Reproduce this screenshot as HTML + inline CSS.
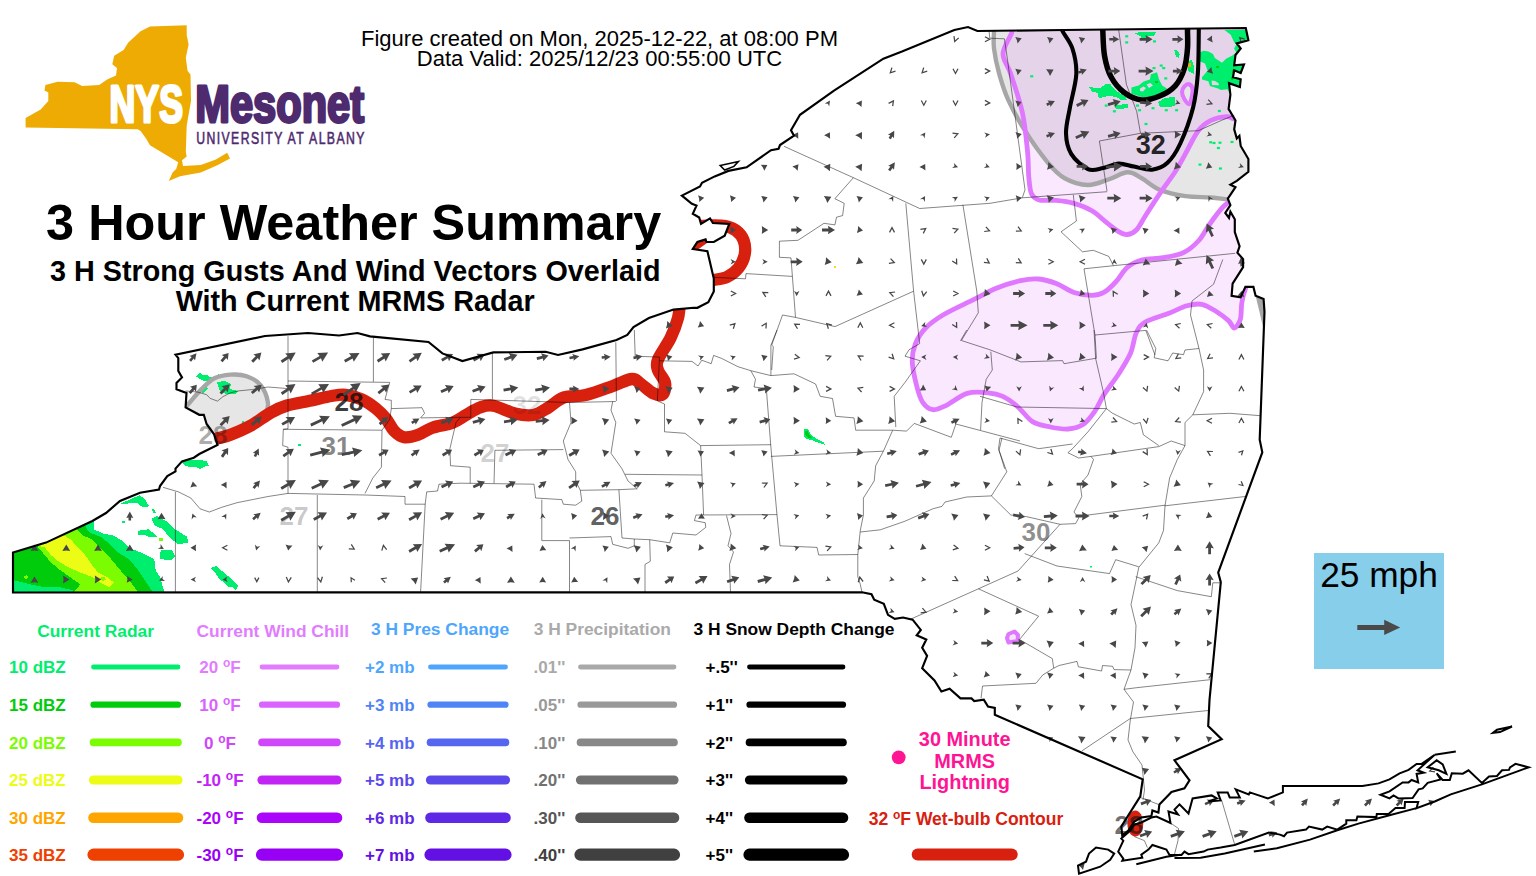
<!DOCTYPE html>
<html lang="en"><head><meta charset="utf-8"><title>NYS Mesonet - 3 Hour Weather Summary</title>
<style>html,body{margin:0;padding:0;background:#fff;}body{width:1536px;height:876px;overflow:hidden;position:relative;font-family:"Liberation Sans", sans-serif;}svg{position:absolute;left:0;top:0;display:block;}svg text{font-family:"Liberation Sans", sans-serif;}</style></head><body>
<svg width="1536" height="876" viewBox="0 0 1536 876">
<rect x="0" y="0" width="1536" height="876" fill="#ffffff"/>
<defs>
<clipPath id="st"><path d="M13.0 592.5 L13.0 552.5 L46.0 542.6 L92.4 521.0 L106.0 513.0 L120.0 501.0 L140.0 492.7 L159.0 489.6 L160.0 486.0 L167.3 476.0 L175.5 471.4 L175.5 468.6 L182.0 461.4 L193.8 457.7 L199.3 454.0 L217.5 444.9 L213.9 434.0 L206.6 424.0 L203.8 414.8 L199.3 414.8 L185.6 407.5 L186.5 392.9 L176.5 389.3 L176.5 382.9 L182.0 377.4 L178.3 371.0 L178.3 358.2 L175.5 354.6 L265.0 336.0 L308.0 333.0 L339.0 335.5 L357.5 333.0 L370.0 336.4 L428.5 342.0 L442.4 353.4 L462.4 361.0 L493.3 352.4 L545.7 351.8 L558.0 355.0 L582.6 349.4 L616.5 340.0 L627.3 334.9 L633.5 327.0 L648.9 318.0 L673.5 309.6 L693.6 307.8 L697.4 307.8 L708.3 302.3 L713.8 291.4 L713.8 278.6 L707.4 251.2 L692.8 249.0 L697.4 242.0 L705.6 239.4 L706.5 242.0 L713.8 242.0 L724.7 235.7 L729.3 223.9 L712.9 223.0 L710.0 218.4 L701.0 223.9 L699.2 217.5 L692.8 213.8 L696.5 205.6 L691.9 203.8 L681.9 195.6 L700.0 186.5 L702.0 182.8 L714.7 176.4 L728.4 170.9 L746.6 167.3 L771.0 150.2 L778.6 148.7 L780.0 145.0 L794.0 135.7 L791.0 130.2 L800.0 114.8 L834.0 90.7 L883.4 58.7 L902.0 51.6 L954.3 30.0 L968.0 27.0 L977.4 31.0 L1064.0 30.0 L1245.8 28.0 L1248.4 40.3 L1236.8 43.4 L1240.7 48.5 L1235.5 55.0 L1234.2 65.2 L1244.0 64.4 L1240.7 73.0 L1234.2 70.3 L1233.0 77.3 L1240.7 79.3 L1239.9 87.0 L1229.0 83.2 L1230.4 94.7 L1228.6 108.9 L1235.5 120.4 L1234.2 129.4 L1236.8 138.4 L1239.4 135.8 L1240.7 146.0 L1248.4 159.0 L1248.4 171.8 L1236.8 180.8 L1230.4 184.6 L1235.5 187.2 L1227.8 198.7 L1230.4 205.2 L1225.3 212.9 L1229.0 218.0 L1230.4 211.6 L1234.8 219.2 L1234.8 232.0 L1239.6 246.3 L1237.4 252.7 L1243.1 259.1 L1243.1 267.1 L1232.6 283.7 L1231.6 295.8 L1240.6 297.4 L1245.4 286.9 L1253.4 286.9 L1255.6 295.8 L1263.6 299.0 L1264.5 311.8 L1259.7 439.6 L1262.3 452.4 L1218.2 572.6 L1220.8 582.2 L1209.5 700.0 L1208.2 726.1 L1221.7 739.2 L1174.5 760.3 L1189.5 780.3 L1184.5 788.4 L1171.5 792.0 L1159.4 804.4 L1158.4 812.5 L1152.4 810.5 L1151.4 816.1 L1141.3 817.5 L1134.3 821.5 L1128.3 830.5 L1122.3 835.6 L1121.3 826.5 L1140.3 796.4 L1142.7 779.3 L994.8 714.8 L994.8 708.0 L988.0 706.6 L983.8 699.7 L974.2 701.0 L971.5 698.4 L960.5 698.4 L949.6 688.8 L941.4 691.5 L934.5 680.5 L922.2 668.2 L927.1 655.9 L922.2 647.7 L926.3 639.5 L916.7 635.3 L920.8 629.9 L912.6 619.7 L903.0 617.5 L894.8 618.9 L888.0 614.8 L883.8 603.8 L874.2 599.7 L871.5 594.2 L862.0 592.3 Z M1141.3 822.5 L1151.4 817.5 L1156.4 816.5 L1170.5 823.0 L1168.5 811.5 L1178.0 814.5 L1174.5 809.5 L1179.5 804.4 L1188.5 813.5 L1192.6 798.4 L1211.6 795.4 L1216.7 798.4 L1208.6 801.4 L1220.7 800.4 L1217.7 792.4 L1227.7 792.4 L1229.7 797.4 L1239.8 797.4 L1235.7 789.4 L1248.8 794.4 L1249.8 792.4 L1267.9 798.4 L1282.9 792.4 L1282.9 786.0 L1362.4 786.0 L1378.5 783.4 L1389.5 779.4 L1399.6 773.3 L1408.6 769.9 L1416.6 763.9 L1421.7 763.9 L1434.7 754.7 L1417.6 770.3 L1423.7 772.7 L1416.6 773.9 L1418.2 782.4 L1411.6 780.0 L1408.6 782.4 L1402.6 782.4 L1389.5 791.4 L1380.5 794.8 L1389.5 798.4 L1393.5 795.4 L1398.5 798.4 L1412.6 798.0 L1418.6 789.4 L1422.7 788.4 L1427.7 782.8 L1440.7 779.4 L1436.7 773.3 L1442.7 780.0 L1449.8 780.0 L1451.8 773.3 L1462.8 773.7 L1468.5 770.3 L1481.9 783.0 L1489.0 776.4 L1497.0 776.0 L1502.0 770.3 L1509.0 769.9 L1510.0 767.3 L1515.5 763.9 L1528.7 767.3 L1481.9 784.4 L1450.8 794.4 L1434.7 801.5 L1416.6 808.1 L1418.2 802.0 L1405.0 802.0 L1404.6 808.1 L1395.5 808.1 L1388.5 813.9 L1376.8 813.9 L1376.4 817.1 L1357.4 816.5 L1356.4 820.2 L1346.3 820.2 L1346.3 823.6 L1337.3 829.6 L1327.2 826.6 L1322.2 829.6 L1309.0 826.6 L1306.0 829.6 L1287.0 832.6 L1284.0 836.2 L1280.0 834.6 L1268.9 832.6 L1234.7 845.0 L1220.7 847.6 L1207.6 849.6 L1203.6 851.6 L1188.5 854.2 L1184.5 851.6 L1181.5 855.0 L1169.5 855.0 L1166.4 849.6 L1152.4 845.0 L1148.4 849.6 L1141.3 854.6 L1142.3 857.7 L1122.3 860.7 L1123.3 858.7 L1118.2 851.6 L1123.3 840.6 L1121.3 838.6 L1130.3 830.5 L1134.3 824.5 Z M1079.0 873.7 L1078.0 865.7 L1086.0 861.7 L1089.0 853.6 L1096.0 847.6 L1108.2 849.6 L1114.2 853.6 L1110.2 859.7 L1100.2 866.7 Z M1427.7 767.3 L1436.7 760.3 L1442.7 764.3 L1446.4 773.9 L1438.7 770.3 Z M1493.0 732.8 L1497.0 729.7 L1512.0 726.5 L1500.0 732.1 Z"/></clipPath>
</defs>
<g clip-path="url(#st)">
<path d="M994.0 20.0 C994.0 21.8 994.0 25.8 994.0 30.5 C994.0 35.2 993.1 41.2 994.0 48.5 C994.9 55.8 996.9 65.6 999.3 74.2 C1001.7 82.8 1003.9 90.5 1008.2 99.9 C1012.5 109.3 1018.4 120.2 1025.0 130.7 C1031.6 141.2 1041.4 154.9 1048.0 162.8 C1054.6 170.7 1058.0 174.5 1064.7 178.2 C1071.4 181.9 1080.6 184.8 1087.9 185.0 C1095.2 185.2 1101.8 181.6 1108.4 179.5 C1115.0 177.4 1122.1 172.5 1127.7 172.3 C1133.3 172.1 1136.5 175.3 1141.8 178.2 C1147.1 181.1 1152.5 186.8 1159.8 189.8 C1167.1 192.8 1176.9 194.9 1185.4 196.2 C1193.9 197.5 1203.9 196.9 1211.0 197.5 C1218.1 198.1 1222.1 198.9 1227.8 199.5 C1233.5 200.1 1242.1 200.8 1245.0 201.0 L1300 201 L1300 0 L994 0 Z" fill="#e6e6e6"/>
<path d="M180.0 410.0 C181.2 409.2 183.6 408.8 187.0 405.5 C190.4 402.2 195.7 394.9 200.3 390.4 C204.9 385.9 209.4 380.9 214.4 378.3 C219.4 375.7 225.1 375.0 230.5 374.6 C235.9 374.2 241.6 374.4 246.7 376.2 C251.8 378.0 257.3 380.9 260.8 385.3 C264.3 389.7 267.2 397.3 267.9 402.5 C268.6 407.7 266.5 413.3 264.9 416.6 C263.2 419.9 261.5 420.4 258.0 422.5 C254.5 424.6 249.0 427.3 244.0 429.5 C239.0 431.7 233.7 433.6 228.0 435.5 C222.3 437.4 213.0 440.1 210.0 441.0 L150 460 L150 410 Z" fill="#e6e6e6"/>
<path d="M1012.0 20.0 C1012.0 22.0 1013.5 26.2 1012.0 31.8 C1010.5 37.4 1003.2 46.6 1003.0 53.7 C1002.8 60.8 1007.6 64.4 1010.8 74.2 C1014.0 84.0 1019.6 99.9 1022.4 112.7 C1025.2 125.5 1026.4 140.5 1027.5 151.2 C1028.6 161.9 1028.1 169.9 1028.8 177.0 C1029.5 184.1 1029.7 189.8 1031.4 193.6 C1033.1 197.4 1034.8 198.9 1039.0 200.0 C1043.2 201.1 1050.5 199.8 1056.3 200.4 C1062.1 201.0 1068.1 201.7 1074.0 203.4 C1079.9 205.1 1086.5 207.6 1091.9 210.8 C1097.4 214.0 1102.2 219.2 1106.7 222.7 C1111.2 226.2 1115.1 229.6 1118.6 231.6 C1122.1 233.6 1124.5 234.8 1127.5 234.5 C1130.5 234.2 1133.4 233.1 1136.4 230.0 C1139.4 226.9 1141.4 222.1 1145.3 216.0 C1149.2 209.9 1154.8 201.0 1159.8 193.6 C1164.8 186.2 1170.9 178.4 1175.2 171.8 C1179.5 165.2 1181.6 160.7 1185.4 153.8 C1189.2 147.0 1194.0 136.3 1198.3 130.7 C1202.6 125.1 1206.3 122.8 1211.0 120.4 C1215.7 118.1 1222.6 116.8 1226.5 116.6 C1230.4 116.4 1230.3 117.9 1234.2 119.0 C1238.1 120.1 1247.4 122.3 1250.0 123.0 L1300 123 L1300 0 L1012 0 Z" fill="#e070ff" fill-opacity="0.16"/>
<path d="M1250.0 196.0 C1246.2 197.2 1233.5 199.0 1227.0 203.4 C1220.5 207.8 1215.4 216.5 1210.7 222.7 C1206.0 228.9 1203.2 235.6 1198.8 240.5 C1194.3 245.4 1189.9 249.5 1184.0 252.4 C1178.1 255.3 1170.1 256.5 1163.2 257.7 C1156.3 258.9 1148.4 258.2 1142.4 259.8 C1136.5 261.4 1132.0 263.5 1127.5 267.2 C1123.0 270.9 1119.7 277.8 1115.7 282.0 C1111.8 286.2 1107.8 290.2 1103.8 292.4 C1099.8 294.6 1096.9 295.4 1091.9 295.4 C1086.9 295.4 1079.9 294.4 1074.0 292.4 C1068.1 290.4 1062.2 285.7 1056.3 283.5 C1050.4 281.3 1044.5 279.5 1038.5 279.0 C1032.5 278.5 1027.5 279.1 1020.6 280.6 C1013.7 282.1 1004.8 284.8 996.9 288.0 C989.0 291.2 981.9 295.4 973.0 299.9 C964.1 304.3 951.3 310.0 943.4 314.7 C935.5 319.4 930.3 323.1 925.6 328.0 C920.9 332.9 917.4 338.7 915.2 344.4 C913.0 350.1 912.0 355.3 912.3 362.2 C912.5 369.1 915.0 379.3 916.7 386.0 C918.4 392.7 920.0 398.4 922.7 402.3 C925.4 406.2 929.0 409.2 933.0 409.7 C937.0 410.2 940.7 408.0 946.4 405.3 C952.1 402.6 960.3 395.5 967.2 393.4 C974.1 391.3 982.1 392.3 988.0 392.8 C993.9 393.3 997.8 394.1 1002.8 396.4 C1007.8 398.7 1012.8 402.5 1017.7 406.7 C1022.7 410.9 1027.1 418.2 1032.5 421.6 C1037.9 425.0 1044.4 425.8 1050.3 427.0 C1056.2 428.2 1062.6 429.4 1068.1 429.0 C1073.5 428.6 1078.5 427.6 1083.0 424.6 C1087.5 421.6 1091.4 416.1 1094.9 411.2 C1098.4 406.2 1099.8 401.1 1103.8 394.9 C1107.8 388.7 1114.1 380.9 1118.6 374.0 C1123.0 367.1 1127.5 360.2 1130.5 353.3 C1133.5 346.4 1133.9 337.7 1136.4 332.5 C1138.9 327.3 1139.9 325.2 1145.3 322.0 C1150.7 318.8 1162.1 315.9 1169.0 313.2 C1175.9 310.5 1181.4 307.3 1186.9 305.8 C1192.4 304.3 1196.8 303.3 1201.8 304.3 C1206.8 305.3 1212.1 309.0 1216.6 311.7 C1221.0 314.4 1225.5 317.9 1228.5 320.6 C1231.5 323.3 1232.4 328.2 1234.4 328.0 C1236.4 327.8 1239.2 323.4 1240.4 319.2 C1241.6 315.0 1240.9 308.0 1241.8 302.8 C1242.7 297.6 1244.0 292.6 1245.7 288.0 C1247.4 283.4 1251.0 277.2 1252.0 275.0 L1300 275 L1300 196 Z" fill="#e070ff" fill-opacity="0.16"/>
<path d="M0.0 600.0 L0.0 500.0 L93.5 519.7 L93.5 529.3 L103.9 533.8 L112.8 535.3 L123.0 541.2 L130.6 548.6 L142.4 553.0 L154.3 559.0 L155.8 570.9 L160.2 576.8 L163.2 588.7 L164.7 592.4 L165.0 600.0 Z" fill="#00ee6e" shape-rendering="crispEdges"/>
<path d="M0.0 600.0 L0.0 500.0 L84.6 524.2 L89.0 532.3 L100.9 536.8 L109.8 544.2 L118.7 553.0 L129.0 559.0 L136.5 567.9 L142.4 576.8 L148.4 585.7 L152.8 592.4 L153.0 600.0 Z" fill="#00cc0c" shape-rendering="crispEdges"/>
<path d="M30.0 548.0 L75.7 528.6 L83.0 535.3 L92.0 539.7 L100.9 548.6 L109.8 557.5 L117.2 566.4 L126.0 576.8 L133.5 585.7 L138.0 592.4 L138.0 600.0 L72.7 600.0 L72.7 592.4 L77.2 588.7 L80.0 584.2 L69.7 576.8 L59.3 569.4 L50.4 562.0 L43.0 553.0 L37.0 545.7 Z" fill="#7cfc00" shape-rendering="crispEdges"/>
<path d="M38.0 546.0 L63.8 535.3 L71.2 539.7 L77.2 547.1 L86.0 556.0 L92.0 565.0 L98.0 572.4 L106.8 576.8 L114.2 582.8 L109.8 587.2 L100.9 582.8 L92.0 576.8 L80.0 572.4 L69.7 567.9 L59.3 562.0 L50.4 554.6 L44.5 547.1 Z" fill="#ecfc14" shape-rendering="crispEdges"/>
<path d="M0.0 579.8 L12.6 579.8 L29.7 584.2 L44.5 587.2 L59.3 587.2 L72.7 590.2 L73.0 600.0 L0.0 600.0 Z" fill="#00ee6e" shape-rendering="crispEdges"/>
<path d="M23.7 576.0 L27.0 575.3 L28.2 578.0 L25.0 579.0 Z" fill="#7cfc00" shape-rendering="crispEdges"/>
<path d="M100.0 578.0 L104.0 576.5 L106.0 580.0 L102.0 581.0 Z" fill="#7cfc00" shape-rendering="crispEdges"/>
<path d="M120.0 504.0 L126.0 501.2 L139.5 495.2 L145.4 499.7 L149.0 506.4 L142.4 507.0 L136.5 502.6 L128.0 503.5 Z" fill="#00ee6e" shape-rendering="crispEdges"/>
<path d="M151.3 508.6 L154.0 508.6 L155.8 513.0 L153.0 512.5 Z" fill="#00ee6e" shape-rendering="crispEdges"/>
<path d="M151.3 519.0 L157.3 516.0 L167.7 522.0 L175.0 529.3 L187.0 536.8 L188.4 542.7 L178.0 544.2 L169.0 536.8 L163.2 529.3 L154.3 525.0 Z" fill="#00ee6e" shape-rendering="crispEdges"/>
<path d="M138.0 530.8 L148.4 529.3 L154.3 533.8 L157.3 536.8 L148.4 536.8 L146.0 535.3 L138.0 535.3 Z" fill="#00ee6e" shape-rendering="crispEdges"/>
<path d="M158.8 537.5 L163.2 537.5 L163.2 541.2 L158.8 541.2 Z" fill="#7cfc00" shape-rendering="crispEdges"/>
<path d="M159.5 554.6 L161.7 550.0 L172.0 550.0 L175.0 556.0 L170.6 560.5 L160.2 559.0 Z" fill="#00ee6e" shape-rendering="crispEdges"/>
<path d="M121.7 521.2 L124.6 521.2 L124.6 522.7 L121.7 522.7 Z" fill="#00ee6e" shape-rendering="crispEdges"/>
<path d="M211.0 568.0 L216.0 566.0 L222.0 571.0 L228.0 576.0 L233.0 580.0 L238.0 586.0 L236.0 590.0 L232.0 587.0 L228.0 587.0 L224.0 582.0 L220.0 580.0 L216.0 574.0 Z" fill="#00ee6e" shape-rendering="crispEdges"/>
<path d="M182.0 462.0 L188.0 460.0 L195.0 459.5 L201.0 460.0 L207.0 461.5 L209.0 466.0 L205.0 466.5 L200.0 469.0 L196.0 467.0 L190.0 467.0 L185.0 465.5 Z" fill="#00ee6e" shape-rendering="crispEdges"/>
<path d="M196.0 376.5 L200.0 372.5 L203.0 375.0 L207.0 375.0 L210.0 377.5 L215.0 377.0 L219.0 373.5 L218.0 378.0 L212.0 381.0 L204.0 381.0 L199.0 378.5 Z" fill="#00ee6e" shape-rendering="crispEdges"/>
<path d="M217.0 382.0 L225.0 381.0 L231.0 384.0 L230.0 389.0 L238.0 391.0 L236.0 394.0 L226.0 394.0 L220.0 391.0 L218.0 386.0 Z" fill="#00ee6e" shape-rendering="crispEdges"/>
<path d="M199.0 390.0 L204.0 386.0 L208.0 388.0 L203.0 393.0 Z" fill="#00ee6e" shape-rendering="crispEdges"/>
<path d="M297.5 443.5 L300.5 443.5 L300.5 445.5 L297.5 445.5 Z" fill="#00ee6e" shape-rendering="crispEdges"/>
<path d="M242.0 421.0 L244.0 421.0 L244.0 424.0 L242.0 424.0 Z" fill="#00ee6e" shape-rendering="crispEdges"/>
<path d="M803.5 429.0 L808.0 429.5 L811.0 435.0 L817.0 439.0 L824.0 442.5 L824.5 444.5 L819.0 443.0 L812.0 440.0 L806.0 439.0 L803.5 435.0 Z" fill="#00ee6e" shape-rendering="crispEdges"/>
<path d="M804.5 431.0 L807.5 431.5 L810.0 436.0 L813.0 438.5 L808.0 438.0 L805.0 435.0 Z" fill="#00cc0c" shape-rendering="crispEdges"/>
<path d="M1224.4 30.0 L1260.0 30.0 L1260.0 93.0 L1229.0 92.4 L1227.5 89.2 L1221.0 90.0 L1218.0 88.4 L1210.0 86.0 L1208.4 81.2 L1202.0 79.6 L1202.0 77.2 L1207.6 70.8 L1205.0 63.6 L1199.6 61.2 L1199.6 52.4 L1203.6 50.8 L1208.4 51.6 L1213.0 54.0 L1214.8 58.0 L1222.0 62.8 L1226.0 58.8 L1232.4 55.6 L1236.3 52.4 L1234.0 48.4 L1236.3 44.4 L1234.0 42.0 L1230.7 34.8 Z M1211.6 80.4 L1215.0 81.0 L1218.8 83.5 L1218.8 85.2 L1212.0 85.0 Z" fill="#00ee6e" fill-rule="evenodd"/>
<path d="M1231.5 70.0 L1235.5 70.0 L1236.0 72.4 L1232.0 73.0 Z" fill="#00cc0c" shape-rendering="crispEdges"/>
<path d="M1230.8 77.2 L1233.0 77.2 L1233.5 79.6 L1231.0 80.0 Z" fill="#00cc0c" shape-rendering="crispEdges"/>
<path d="M1216.0 66.0 L1218.5 66.0 L1218.5 67.8 L1216.0 67.8 Z" fill="#00cc0c" shape-rendering="crispEdges"/>
<path d="M1187.6 61.2 L1191.6 60.0 L1194.0 66.0 L1194.0 74.3 L1190.0 72.0 L1188.0 70.8 Z" fill="#00ee6e" shape-rendering="crispEdges"/>
<path d="M1187.2 63.3 L1190.6 63.3 L1190.6 67.3 L1187.2 67.3 Z" fill="#ffa500" shape-rendering="crispEdges"/>
<path d="M1174.4 50.0 L1177.0 50.0 L1179.6 54.0 L1179.0 58.0 L1176.0 57.0 L1175.0 53.0 Z" fill="#00ee6e" shape-rendering="crispEdges"/>
<path d="M1088.7 86.6 L1093.4 87.6 L1100.5 87.6 L1106.7 83.5 L1109.8 83.5 L1113.9 88.7 L1119.0 92.8 L1125.2 96.9 L1127.3 100.0 L1121.0 100.0 L1116.0 96.9 L1108.8 95.9 L1100.5 97.9 L1097.5 96.9 L1097.5 92.8 L1092.3 91.8 Z" fill="#00ee6e" shape-rendering="crispEdges"/>
<path d="M1113.9 105.1 L1128.3 104.1 L1128.3 108.2 L1116.0 109.2 Z" fill="#00ee6e" shape-rendering="crispEdges"/>
<path d="M1131.4 87.6 L1138.6 85.6 L1143.7 81.5 L1149.9 79.4 L1150.9 74.3 L1157.0 72.2 L1159.1 79.4 L1162.2 85.6 L1167.3 88.7 L1162.2 92.8 L1151.9 96.9 L1141.6 96.9 L1131.4 93.8 Z M1140.0 88.5 L1143.5 86.5 L1146.0 88.0 L1143.0 91.5 L1140.0 91.0 Z M1146.5 84.5 L1150.5 83.0 L1153.0 85.5 L1149.0 88.0 Z" fill="#00ee6e" fill-rule="evenodd"/>
<path d="M1155.0 80.5 L1157.5 80.5 L1157.5 82.5 L1155.0 82.5 Z" fill="#00cc0c" shape-rendering="crispEdges"/>
<path d="M1158.0 102.0 L1165.3 97.9 L1174.5 96.9 L1174.5 106.1 L1168.4 107.2 L1160.0 107.2 Z" fill="#00ee6e" shape-rendering="crispEdges"/>
<path d="M1134.5 33.2 L1141.6 31.7 L1149.9 32.2 L1156.0 31.7 L1154.0 36.3 L1147.8 35.8 L1145.8 39.4 L1140.6 39.4 L1140.6 36.3 Z" fill="#00ee6e" shape-rendering="crispEdges"/>
<rect x="1125.2" y="35.2" width="3" height="2.2" fill="#00ee6e"/>
<rect x="1125.2" y="41.3" width="3" height="2.2" fill="#00ee6e"/>
<rect x="1153.0" y="40.3" width="3" height="2.2" fill="#00ee6e"/>
<rect x="1152.5" y="67.0" width="3" height="2.2" fill="#00ee6e"/>
<rect x="1159.7" y="64.5" width="3" height="2.2" fill="#00ee6e"/>
<rect x="1162.2" y="67.0" width="3" height="2.2" fill="#00ee6e"/>
<rect x="1164.3" y="77.3" width="3" height="2.2" fill="#00ee6e"/>
<rect x="1104.7" y="104.5" width="3" height="2.2" fill="#00ee6e"/>
<rect x="1136.0" y="104.5" width="3" height="2.2" fill="#00ee6e"/>
<rect x="1138.1" y="109.1" width="3" height="2.2" fill="#00ee6e"/>
<rect x="1151.5" y="107.1" width="3" height="2.2" fill="#00ee6e"/>
<rect x="1164.8" y="109.1" width="3" height="2.2" fill="#00ee6e"/>
<rect x="1175.1" y="109.1" width="3" height="2.2" fill="#00ee6e"/>
<rect x="1112.9" y="110.2" width="3" height="2.2" fill="#00ee6e"/>
<rect x="1030.2" y="75.2" width="3" height="2.2" fill="#00ee6e"/>
<rect x="1209.2" y="141.2" width="3" height="2.2" fill="#00ee6e"/>
<rect x="1218.5" y="141.6" width="3" height="2.2" fill="#00ee6e"/>
<rect x="1216.9" y="146.9" width="3" height="2.2" fill="#00ee6e"/>
<rect x="1198.5" y="163.5" width="3" height="2.2" fill="#00ee6e"/>
<rect x="1218.9" y="167.4" width="3" height="2.2" fill="#00ee6e"/>
<rect x="1230.5" y="140.9" width="3" height="2.2" fill="#00ee6e"/>
<rect x="1217.9" y="109.9" width="3" height="2.2" fill="#00ee6e"/>
<rect x="1212.5" y="141.9" width="3" height="2.2" fill="#00ee6e"/>
<rect x="1236.5" y="126.9" width="3" height="2.2" fill="#00ee6e"/>
<rect x="1236.5" y="110.9" width="3" height="2.2" fill="#00ee6e"/>
<rect x="1144.5" y="122.9" width="3" height="2.2" fill="#00ee6e"/>
<rect x="834" y="266" width="2" height="2" fill="#f0e020"/>
<rect x="1090" y="566" width="2" height="1.5" fill="#00ee6e"/>
<path d="M180.0 410.0 C181.2 409.2 183.6 408.8 187.0 405.5 C190.4 402.2 195.7 394.9 200.3 390.4 C204.9 385.9 209.4 380.9 214.4 378.3 C219.4 375.7 225.1 375.0 230.5 374.6 C235.9 374.2 241.6 374.4 246.7 376.2 C251.8 378.0 257.3 380.9 260.8 385.3 C264.3 389.7 267.2 397.3 267.9 402.5 C268.6 407.7 266.5 413.3 264.9 416.6 C263.2 419.9 261.5 420.4 258.0 422.5 C254.5 424.6 249.0 427.3 244.0 429.5 C239.0 431.7 233.7 433.6 228.0 435.5 C222.3 437.4 213.0 440.1 210.0 441.0" fill="none" stroke="#a6a6a6" stroke-width="4.4"/>
<path d="M210.0 441.0 C211.1 440.6 213.0 439.8 216.4 438.8 C219.8 437.8 224.8 437.0 230.5 434.8 C236.2 432.6 244.0 429.4 250.7 425.7 C257.4 422.0 264.8 416.0 270.9 412.6 C276.9 409.2 280.3 407.5 287.0 405.5 C293.7 403.5 303.9 402.1 311.3 400.5 C318.7 398.9 325.8 396.9 331.5 396.0 C337.2 395.1 340.6 394.2 345.6 394.8 C350.6 395.4 356.6 397.1 361.7 399.4 C366.8 401.7 371.8 405.3 375.9 408.5 C379.9 411.7 383.0 414.9 386.0 418.6 C389.0 422.3 391.0 427.6 394.0 430.7 C397.0 433.8 400.1 436.5 404.1 437.2 C408.1 437.9 413.5 436.4 418.2 434.8 C422.9 433.2 426.7 429.7 432.4 427.7 C438.1 425.7 446.8 424.9 452.5 422.7 C458.2 420.5 462.1 417.1 466.7 414.6 C471.3 412.1 475.6 409.0 480.0 407.5 C484.4 406.0 487.5 404.7 493.3 405.7 C499.1 406.7 508.1 411.9 514.8 413.5 C521.5 415.1 527.6 416.0 533.3 415.0 C538.9 414.0 543.6 410.2 548.7 407.3 C553.8 404.4 557.8 399.4 564.0 397.4 C570.2 395.3 577.5 396.9 585.7 395.0 C594.0 393.1 605.8 388.4 613.5 385.7 C621.2 383.0 627.4 379.3 632.0 379.0 C636.6 378.7 637.4 381.6 641.0 384.0 C644.6 386.4 649.9 391.7 653.5 393.4 C657.1 395.1 660.9 396.1 662.8 394.3 C664.7 392.5 665.8 386.6 665.0 382.6 C664.2 378.6 659.2 374.2 658.0 370.3 C656.8 366.4 655.9 364.9 658.0 359.5 C660.1 354.1 667.2 344.9 670.5 338.0 C673.8 331.1 676.4 324.3 678.0 318.0 C679.6 311.7 679.7 303.0 680.0 300.0" fill="none" stroke="#d8200f" stroke-width="12.3" stroke-linejoin="round"/>
<path d="M700.0 280.5 C702.3 280.4 709.5 280.4 714.0 279.8 C718.5 279.2 722.9 279.0 727.0 277.0 C731.1 275.0 735.5 271.8 738.5 268.0 C741.5 264.2 744.0 258.7 744.8 254.0 C745.6 249.3 745.0 243.9 743.5 240.0 C742.0 236.1 739.1 232.8 736.0 230.5 C732.9 228.2 729.0 226.9 725.0 226.0 C721.0 225.1 716.2 225.3 712.0 225.3 C707.8 225.3 702.0 225.9 700.0 226.0" fill="none" stroke="#d8200f" stroke-width="12.3" stroke-linejoin="round"/>
<ellipse cx="1135.3" cy="823.5" rx="8" ry="13" fill="#d8200f"/>
<path d="M692 250 L706 240" stroke="#d8200f" stroke-width="6"/>
<path d="M994.0 20.0 C994.0 21.8 994.0 25.8 994.0 30.5 C994.0 35.2 993.1 41.2 994.0 48.5 C994.9 55.8 996.9 65.6 999.3 74.2 C1001.7 82.8 1003.9 90.5 1008.2 99.9 C1012.5 109.3 1018.4 120.2 1025.0 130.7 C1031.6 141.2 1041.4 154.9 1048.0 162.8 C1054.6 170.7 1058.0 174.5 1064.7 178.2 C1071.4 181.9 1080.6 184.8 1087.9 185.0 C1095.2 185.2 1101.8 181.6 1108.4 179.5 C1115.0 177.4 1122.1 172.5 1127.7 172.3 C1133.3 172.1 1136.5 175.3 1141.8 178.2 C1147.1 181.1 1152.5 186.8 1159.8 189.8 C1167.1 192.8 1176.9 194.9 1185.4 196.2 C1193.9 197.5 1203.9 196.9 1211.0 197.5 C1218.1 198.1 1222.1 198.9 1227.8 199.5 C1233.5 200.1 1242.1 200.8 1245.0 201.0" fill="none" stroke="#a6a6a6" stroke-width="4.4"/>
<path d="M1012.0 20.0 C1012.0 22.0 1013.5 26.2 1012.0 31.8 C1010.5 37.4 1003.2 46.6 1003.0 53.7 C1002.8 60.8 1007.6 64.4 1010.8 74.2 C1014.0 84.0 1019.6 99.9 1022.4 112.7 C1025.2 125.5 1026.4 140.5 1027.5 151.2 C1028.6 161.9 1028.1 169.9 1028.8 177.0 C1029.5 184.1 1029.7 189.8 1031.4 193.6 C1033.1 197.4 1034.8 198.9 1039.0 200.0 C1043.2 201.1 1050.5 199.8 1056.3 200.4 C1062.1 201.0 1068.1 201.7 1074.0 203.4 C1079.9 205.1 1086.5 207.6 1091.9 210.8 C1097.4 214.0 1102.2 219.2 1106.7 222.7 C1111.2 226.2 1115.1 229.6 1118.6 231.6 C1122.1 233.6 1124.5 234.8 1127.5 234.5 C1130.5 234.2 1133.4 233.1 1136.4 230.0 C1139.4 226.9 1141.4 222.1 1145.3 216.0 C1149.2 209.9 1154.8 201.0 1159.8 193.6 C1164.8 186.2 1170.9 178.4 1175.2 171.8 C1179.5 165.2 1181.6 160.7 1185.4 153.8 C1189.2 147.0 1194.0 136.3 1198.3 130.7 C1202.6 125.1 1206.3 122.8 1211.0 120.4 C1215.7 118.1 1222.6 116.8 1226.5 116.6 C1230.4 116.4 1230.3 117.9 1234.2 119.0 C1238.1 120.1 1247.4 122.3 1250.0 123.0" fill="none" stroke="#df78ff" stroke-width="4.8" stroke-linejoin="round"/>
<path d="M1250.0 196.0 C1246.2 197.2 1233.5 199.0 1227.0 203.4 C1220.5 207.8 1215.4 216.5 1210.7 222.7 C1206.0 228.9 1203.2 235.6 1198.8 240.5 C1194.3 245.4 1189.9 249.5 1184.0 252.4 C1178.1 255.3 1170.1 256.5 1163.2 257.7 C1156.3 258.9 1148.4 258.2 1142.4 259.8 C1136.5 261.4 1132.0 263.5 1127.5 267.2 C1123.0 270.9 1119.7 277.8 1115.7 282.0 C1111.8 286.2 1107.8 290.2 1103.8 292.4 C1099.8 294.6 1096.9 295.4 1091.9 295.4 C1086.9 295.4 1079.9 294.4 1074.0 292.4 C1068.1 290.4 1062.2 285.7 1056.3 283.5 C1050.4 281.3 1044.5 279.5 1038.5 279.0 C1032.5 278.5 1027.5 279.1 1020.6 280.6 C1013.7 282.1 1004.8 284.8 996.9 288.0 C989.0 291.2 981.9 295.4 973.0 299.9 C964.1 304.3 951.3 310.0 943.4 314.7 C935.5 319.4 930.3 323.1 925.6 328.0 C920.9 332.9 917.4 338.7 915.2 344.4 C913.0 350.1 912.0 355.3 912.3 362.2 C912.5 369.1 915.0 379.3 916.7 386.0 C918.4 392.7 920.0 398.4 922.7 402.3 C925.4 406.2 929.0 409.2 933.0 409.7 C937.0 410.2 940.7 408.0 946.4 405.3 C952.1 402.6 960.3 395.5 967.2 393.4 C974.1 391.3 982.1 392.3 988.0 392.8 C993.9 393.3 997.8 394.1 1002.8 396.4 C1007.8 398.7 1012.8 402.5 1017.7 406.7 C1022.7 410.9 1027.1 418.2 1032.5 421.6 C1037.9 425.0 1044.4 425.8 1050.3 427.0 C1056.2 428.2 1062.6 429.4 1068.1 429.0 C1073.5 428.6 1078.5 427.6 1083.0 424.6 C1087.5 421.6 1091.4 416.1 1094.9 411.2 C1098.4 406.2 1099.8 401.1 1103.8 394.9 C1107.8 388.7 1114.1 380.9 1118.6 374.0 C1123.0 367.1 1127.5 360.2 1130.5 353.3 C1133.5 346.4 1133.9 337.7 1136.4 332.5 C1138.9 327.3 1139.9 325.2 1145.3 322.0 C1150.7 318.8 1162.1 315.9 1169.0 313.2 C1175.9 310.5 1181.4 307.3 1186.9 305.8 C1192.4 304.3 1196.8 303.3 1201.8 304.3 C1206.8 305.3 1212.1 309.0 1216.6 311.7 C1221.0 314.4 1225.5 317.9 1228.5 320.6 C1231.5 323.3 1232.4 328.2 1234.4 328.0 C1236.4 327.8 1239.2 323.4 1240.4 319.2 C1241.6 315.0 1240.9 308.0 1241.8 302.8 C1242.7 297.6 1244.0 292.6 1245.7 288.0 C1247.4 283.4 1251.0 277.2 1252.0 275.0" fill="none" stroke="#df78ff" stroke-width="4.8" stroke-linejoin="round"/>
<path d="M1189.0 84.3 C1190.3 84.7 1192.0 86.4 1192.4 88.5 C1192.9 90.6 1192.3 94.4 1191.7 97.0 C1191.1 99.6 1190.2 103.8 1189.0 104.2 C1187.8 104.6 1185.8 101.5 1184.6 99.5 C1183.4 97.5 1182.0 94.2 1182.0 92.0 C1182.0 89.8 1183.3 87.6 1184.5 86.3 C1185.7 85.0 1187.7 83.9 1189.0 84.3 Z" fill="#e6e6e6" stroke="#df78ff" stroke-width="4.1"/>
<path d="M1008.5 634.0 L1014.5 631.5 L1018.0 635.0 L1017.5 641.0 L1008.5 642.5 L1007.0 638.0 Z" fill="#f6e4fc" stroke="#df78ff" stroke-width="4" stroke-linejoin="round"/>
<path d="M1060.0 20.0 C1060.4 21.8 1060.1 25.8 1062.2 30.5 C1064.3 35.2 1070.1 41.2 1072.4 48.5 C1074.8 55.8 1076.7 64.4 1076.3 74.2 C1075.9 84.0 1071.6 97.8 1069.9 107.6 C1068.2 117.4 1065.8 125.6 1066.0 133.3 C1066.2 141.0 1067.5 147.8 1071.2 153.8 C1074.9 159.8 1082.6 166.8 1087.9 169.2 C1093.2 171.6 1098.2 168.9 1103.3 168.0 C1108.4 167.1 1113.6 163.8 1118.7 163.6 C1123.8 163.4 1128.5 165.6 1134.0 166.6 C1139.5 167.6 1146.4 170.3 1152.0 169.7 C1157.6 169.1 1162.8 167.2 1167.5 162.8 C1172.2 158.4 1176.0 152.7 1180.3 143.5 C1184.6 134.3 1190.2 119.1 1193.1 107.6 C1196.0 96.0 1196.8 87.0 1197.8 74.2 C1198.8 61.4 1198.6 39.5 1198.8 30.5 C1199.0 21.5 1199.0 21.8 1199.0 20.0" fill="none" stroke="#000" stroke-width="4.1"/>
<path d="M1102.8 20.0 C1102.8 21.8 1102.5 24.5 1102.8 30.5 C1103.1 36.5 1103.2 48.5 1104.6 56.2 C1106.0 63.9 1107.8 70.8 1111.0 76.8 C1114.2 82.8 1118.7 88.3 1123.8 92.2 C1128.9 96.1 1135.8 99.3 1141.8 99.9 C1147.8 100.5 1154.2 98.3 1159.8 96.0 C1165.4 93.7 1171.1 90.3 1175.2 85.8 C1179.3 81.3 1182.2 75.2 1184.2 69.0 C1186.2 62.8 1187.0 54.9 1187.5 48.5 C1188.0 42.1 1187.5 35.2 1187.5 30.5 C1187.5 25.8 1187.5 21.8 1187.5 20.0" fill="none" stroke="#000" stroke-width="5.5"/>
</g>
<path d="M185.6 391.0 L197.4 392.0 L206.6 394.7 L210.2 398.4 L217.5 401.1 L223.0 396.6 L230.3 392.9 L237.6 391.0 L252.5 389.5 L268.0 387.0 L288.0 388.6" fill="none" stroke="#000" stroke-opacity="0.8" stroke-width="0.6"/>
<path d="M288.0 336.2 L288.0 428.7" fill="none" stroke="#000" stroke-opacity="0.8" stroke-width="0.6"/>
<path d="M288.0 381.0 L389.7 382.4" fill="none" stroke="#000" stroke-opacity="0.8" stroke-width="0.6"/>
<path d="M283.3 429.3 L382.0 430.2" fill="none" stroke="#000" stroke-opacity="0.8" stroke-width="0.6"/>
<path d="M288.0 428.7 L283.3 429.3 L282.7 445.6 L288.0 447.2 L288.0 493.4 L365.0 495.0" fill="none" stroke="#000" stroke-opacity="0.8" stroke-width="0.6"/>
<path d="M382.0 430.2 L381.4 467.2 L372.8 478.0 L365.0 493.4" fill="none" stroke="#000" stroke-opacity="0.8" stroke-width="0.6"/>
<path d="M373.4 336.2 L373.4 381.8" fill="none" stroke="#000" stroke-opacity="0.8" stroke-width="0.6"/>
<path d="M389.7 382.4 L385.0 399.4 L391.3 400.3 L391.3 408.6 L422.0 407.7 L424.6 413.3 L420.6 417.9 L460.0 417.3 L470.8 417.3 L470.8 399.4 L569.5 402.5 L615.8 401.5" fill="none" stroke="#000" stroke-opacity="0.8" stroke-width="0.6"/>
<path d="M391.3 408.6 L389.7 419.4 L382.0 430.2" fill="none" stroke="#000" stroke-opacity="0.8" stroke-width="0.6"/>
<path d="M163.0 487.3 L178.5 491.9 L190.8 498.0 L200.0 508.8 L209.3 512.0 L221.7 507.3 L237.0 502.7 L252.5 499.6 L268.0 496.5 L288.0 493.4" fill="none" stroke="#000" stroke-opacity="0.8" stroke-width="0.6"/>
<path d="M175.4 491.9 L175.4 592.0" fill="none" stroke="#000" stroke-opacity="0.8" stroke-width="0.6"/>
<path d="M317.3 495.0 L317.3 592.0" fill="none" stroke="#000" stroke-opacity="0.8" stroke-width="0.6"/>
<path d="M365.0 495.0 L405.0 496.5 L405.0 504.2 L425.2 504.2 L420.6 592.0" fill="none" stroke="#000" stroke-opacity="0.8" stroke-width="0.6"/>
<path d="M425.2 504.2 L426.7 491.9 L437.5 491.0 L439.0 484.2 L460.0 483.2 L534.0 484.2" fill="none" stroke="#000" stroke-opacity="0.8" stroke-width="0.6"/>
<path d="M460.6 417.3 L456.0 422.5 L449.9 448.7 L450.5 465.7 L470.2 467.2 L470.2 483.3" fill="none" stroke="#000" stroke-opacity="0.8" stroke-width="0.6"/>
<path d="M492.4 352.2 L492.4 399.4" fill="none" stroke="#000" stroke-opacity="0.8" stroke-width="0.6"/>
<path d="M615.8 342.3 L616.4 401.0" fill="none" stroke="#000" stroke-opacity="0.8" stroke-width="0.6"/>
<path d="M634.3 330.0 L635.2 356.2 L659.5 357.1 L657.4 400.9 L664.5 404.0 L664.5 431.8 L685.0 433.3 L700.6 445.6" fill="none" stroke="#000" stroke-opacity="0.8" stroke-width="0.6"/>
<path d="M659.5 360.8 L692.0 361.4 L698.0 366.0 L701.8 360.2 L711.2 363.7 L713.6 355.4 L721.6 358.4 L738.0 366.7 L750.8 370.7 L755.5 379.3 L754.0 387.0 L766.3 388.6" fill="none" stroke="#000" stroke-opacity="0.8" stroke-width="0.6"/>
<path d="M569.5 402.5 L571.0 422.5 L563.3 441.0 L568.0 459.5 L575.7 471.8 L575.7 481.1 L580.3 490.3 L581.8 501.1 L575.7 505.2 L563.3 504.2 L561.8 499.6 L535.6 498.0 L534.0 484.2" fill="none" stroke="#000" stroke-opacity="0.8" stroke-width="0.6"/>
<path d="M612.7 401.5 L611.0 410.2 L615.8 422.5 L611.0 453.3 L622.0 468.8 L628.0 481.0 L637.3 488.8" fill="none" stroke="#000" stroke-opacity="0.8" stroke-width="0.6"/>
<path d="M700.6 445.6 L770.9 444.7" fill="none" stroke="#000" stroke-opacity="0.8" stroke-width="0.6"/>
<path d="M700.6 445.6 L702.0 475.0 L703.6 515.0" fill="none" stroke="#000" stroke-opacity="0.8" stroke-width="0.6"/>
<path d="M625.0 474.3 L702.0 475.0" fill="none" stroke="#000" stroke-opacity="0.8" stroke-width="0.6"/>
<path d="M494.0 483.3 L494.9 450.3 L563.3 449.6" fill="none" stroke="#000" stroke-opacity="0.8" stroke-width="0.6"/>
<path d="M541.8 499.6 L541.8 540.6 L569.5 540.6 L569.5 592.0" fill="none" stroke="#000" stroke-opacity="0.8" stroke-width="0.6"/>
<path d="M569.5 538.0 L611.0 536.6 L612.7 544.3 L628.0 548.3 L634.3 545.9 L634.3 539.0 L649.7 539.7 L650.3 561.3 L645.0 564.4 L645.0 592.0" fill="none" stroke="#000" stroke-opacity="0.8" stroke-width="0.6"/>
<path d="M580.3 490.3 L618.9 489.7 L637.3 488.8" fill="none" stroke="#000" stroke-opacity="0.8" stroke-width="0.6"/>
<path d="M618.9 489.7 L622.0 538.0 L634.3 539.0" fill="none" stroke="#000" stroke-opacity="0.8" stroke-width="0.6"/>
<path d="M649.7 539.7 L669.7 542.8 L672.8 533.0 L696.0 535.0 L705.8 527.3 L705.2 522.7 L694.4 520.6 L696.0 515.0 L777.0 514.6" fill="none" stroke="#000" stroke-opacity="0.8" stroke-width="0.6"/>
<path d="M726.5 515.6 L731.0 533.5 L728.0 545.8 L733.5 552.0 L729.5 564.4 L730.5 592.0" fill="none" stroke="#000" stroke-opacity="0.8" stroke-width="0.6"/>
<path d="M777.0 330.0 L770.9 345.4 L770.9 375.6 L750.8 370.7" fill="none" stroke="#000" stroke-opacity="0.8" stroke-width="0.6"/>
<path d="M770.9 375.6 L794.0 373.8 L815.6 384.0 L820.2 396.3 L832.5 398.5 L835.6 416.3 L854.0 417.9 L855.7 430.2 L892.7 430.2" fill="none" stroke="#000" stroke-opacity="0.8" stroke-width="0.6"/>
<path d="M766.3 388.6 L770.9 447.2 L777.0 515.0 L780.0 545.8 L817.0 547.4 L818.7 555.0 L857.8 554.5" fill="none" stroke="#000" stroke-opacity="0.8" stroke-width="0.6"/>
<path d="M770.9 456.4 L883.4 451.2" fill="none" stroke="#000" stroke-opacity="0.8" stroke-width="0.6"/>
<path d="M892.7 430.2 L883.4 451.2 L875.7 465.7 L874.2 481.0 L863.4 498.0 L863.4 515.0 L860.3 530.4 L857.8 554.5 L857.8 576.7 L860.3 584.4 L862.0 592.3" fill="none" stroke="#000" stroke-opacity="0.8" stroke-width="0.6"/>
<path d="M895.8 427.1 L894.2 396.3 L905.0 382.4 L920.4 360.8 L905.0 356.2 L909.0 349.8 L919.7 343.6" fill="none" stroke="#000" stroke-opacity="0.8" stroke-width="0.6"/>
<path d="M892.7 430.2 L906.6 431.1 L914.3 423.4 L951.3 437.3 L955.9 424.0 L1020.0 441.0" fill="none" stroke="#000" stroke-opacity="0.8" stroke-width="0.6"/>
<path d="M860.3 532.0 L880.3 529.8 L905.0 521.2 L932.8 508.8 L942.0 506.4 L945.0 502.0 L966.7 497.0 L991.4 495.9 L1006.8 471.8 L999.0 450.3 L1002.0 438.0" fill="none" stroke="#000" stroke-opacity="0.8" stroke-width="0.6"/>
<path d="M991.4 495.9 L1010.8 515.0 L1026.3 516.6 L1060.0 524.3 L1075.6 523.6 L1078.7 518.0 L1074.0 512.0 L1081.8 496.5 L1080.2 484.2 L1088.0 475.0 L1093.5 459.5 L1091.0 456.4" fill="none" stroke="#000" stroke-opacity="0.8" stroke-width="0.6"/>
<path d="M911.0 619.0 L978.4 588.8 L1018.0 571.0 L1060.0 524.3" fill="none" stroke="#000" stroke-opacity="0.8" stroke-width="0.6"/>
<path d="M978.4 588.8 L1038.6 616.2 L1019.5 639.5 L1052.3 658.6 L1053.7 668.2" fill="none" stroke="#000" stroke-opacity="0.8" stroke-width="0.6"/>
<path d="M960.5 340.8 L966.7 330.0" fill="none" stroke="#000" stroke-opacity="0.8" stroke-width="0.6"/>
<path d="M961.4 340.5 L990.0 349.8 L1020.9 361.9 L1062.5 360.6 L1064.0 363.7 L1096.4 358.2" fill="none" stroke="#000" stroke-opacity="0.8" stroke-width="0.6"/>
<path d="M990.8 351.6 L992.3 370.0 L986.2 379.3 L982.0 402.5 L980.6 430.0" fill="none" stroke="#000" stroke-opacity="0.8" stroke-width="0.6"/>
<path d="M980.0 396.3 L1017.0 407.0 L1106.4 408.6" fill="none" stroke="#000" stroke-opacity="0.8" stroke-width="0.6"/>
<path d="M1094.0 330.0 L1095.6 358.4 L1103.3 391.7 L1106.4 408.6" fill="none" stroke="#000" stroke-opacity="0.8" stroke-width="0.6"/>
<path d="M1106.4 408.6 L1112.6 413.3 L1134.2 424.0 L1140.3 422.5 L1143.4 434.8 L1158.8 445.6" fill="none" stroke="#000" stroke-opacity="0.8" stroke-width="0.6"/>
<path d="M1106.4 408.6 L1088.0 431.8 L1072.5 448.7 L1067.9 452.7 L1078.7 458.0 L1091.0 456.4 L1158.8 446.6 L1171.2 441.0 L1185.0 445.6" fill="none" stroke="#000" stroke-opacity="0.8" stroke-width="0.6"/>
<path d="M1000.0 438.0 L1038.6 448.7 L1072.5 444.0" fill="none" stroke="#000" stroke-opacity="0.8" stroke-width="0.6"/>
<path d="M1000.0 438.0 L998.5 448.7 L1004.7 468.8" fill="none" stroke="#000" stroke-opacity="0.8" stroke-width="0.6"/>
<path d="M1146.5 330.0 L1155.8 348.5 L1154.2 357.8 L1168.0 360.8 L1172.7 353.0 L1183.5 354.7 L1185.0 350.0 L1199.0 348.5" fill="none" stroke="#000" stroke-opacity="0.8" stroke-width="0.6"/>
<path d="M1190.5 315.0 L1199.0 348.5 L1203.6 370.0 L1203.6 391.7 L1192.8 414.8 L1185.0 422.5 L1185.0 445.6 L1177.3 459.5 L1169.6 478.0 L1165.0 505.8 L1163.5 530.4 L1158.8 542.8 L1138.8 567.4 L1131.0 604.6 L1136.0 625.4 L1135.0 647.7 L1131.0 670.0 L1124.0 689.3 L1133.5 702.0 L1130.3 720.0 L1128.0 740.0 L1133.0 752.0 L1142.0 765.0 L1144.5 790.0 L1143.0 800.0" fill="none" stroke="#000" stroke-opacity="0.8" stroke-width="0.6"/>
<path d="M1192.8 414.8 L1229.8 413.3 L1260.5 415.7" fill="none" stroke="#000" stroke-opacity="0.8" stroke-width="0.6"/>
<path d="M1165.0 505.8 L1245.2 496.5" fill="none" stroke="#000" stroke-opacity="0.8" stroke-width="0.6"/>
<path d="M1075.6 516.6 L1165.0 505.2" fill="none" stroke="#000" stroke-opacity="0.8" stroke-width="0.6"/>
<path d="M1135.7 576.7 L1177.3 590.6 L1211.3 596.7 L1212.8 582.8 L1220.5 582.8" fill="none" stroke="#000" stroke-opacity="0.8" stroke-width="0.6"/>
<path d="M1024.7 553.6 L1057.0 566.0 L1109.5 573.6 L1115.7 559.7 L1138.8 566.8" fill="none" stroke="#000" stroke-opacity="0.8" stroke-width="0.6"/>
<path d="M784.0 146.3 L853.4 177.7 L919.7 208.5 L990.0 203.3 L1022.4 197.8 L1107.2 191.7" fill="none" stroke="#000" stroke-opacity="0.8" stroke-width="0.6"/>
<path d="M853.4 177.7 L834.9 198.7 L844.2 203.3 L842.6 215.6 L836.5 217.2 L834.9 224.9 L824.0 223.3 L798.0 240.3 L779.4 241.2 L779.4 257.3 L791.0 257.9 L792.4 276.4" fill="none" stroke="#000" stroke-opacity="0.8" stroke-width="0.6"/>
<path d="M713.0 277.3 L745.5 278.8 L746.0 273.6 L792.4 276.4" fill="none" stroke="#000" stroke-opacity="0.8" stroke-width="0.6"/>
<path d="M792.4 276.4 L795.5 317.4 L782.5 315.0 L771.7 345.0 L773.3 346.7 L771.7 370.0" fill="none" stroke="#000" stroke-opacity="0.8" stroke-width="0.6"/>
<path d="M795.5 317.4 L835.0 326.6 L913.6 291.2" fill="none" stroke="#000" stroke-opacity="0.8" stroke-width="0.6"/>
<path d="M905.8 203.3 L913.6 291.2 L919.7 343.6" fill="none" stroke="#000" stroke-opacity="0.8" stroke-width="0.6"/>
<path d="M962.9 204.8 L976.8 291.2 L978.3 312.8 L961.4 340.5" fill="none" stroke="#000" stroke-opacity="0.8" stroke-width="0.6"/>
<path d="M989.0 30.5 L989.8 38.2 L1004.4 38.8 L1007.0 56.2 L1025.0 189.8 L1022.4 197.5" fill="none" stroke="#000" stroke-opacity="0.8" stroke-width="0.6"/>
<path d="M1118.7 30.0 L1126.4 84.5 L1136.7 111.4 L1140.5 133.3" fill="none" stroke="#000" stroke-opacity="0.8" stroke-width="0.6"/>
<path d="M1099.4 141.0 L1140.5 133.3 L1198.3 130.7 L1221.4 120.4 L1234.2 115.3" fill="none" stroke="#000" stroke-opacity="0.8" stroke-width="0.6"/>
<path d="M1099.4 141.0 L1107.0 191.0" fill="none" stroke="#000" stroke-opacity="0.8" stroke-width="0.6"/>
<path d="M1073.3 194.8 L1076.4 221.0 L1061.0 231.8 L1082.5 251.8 L1093.3 250.3 L1108.8 256.4 L1113.4 265.7" fill="none" stroke="#000" stroke-opacity="0.8" stroke-width="0.6"/>
<path d="M1084.0 268.8 L1113.4 265.7 L1235.2 253.3" fill="none" stroke="#000" stroke-opacity="0.8" stroke-width="0.6"/>
<path d="M1084.0 268.8 L1095.0 335.0 L1096.4 358.2" fill="none" stroke="#000" stroke-opacity="0.8" stroke-width="0.6"/>
<path d="M1095.0 335.0 L1145.8 330.4 L1155.0 355.0" fill="none" stroke="#000" stroke-opacity="0.8" stroke-width="0.6"/>
<path d="M1222.8 259.5 L1213.6 284.2 L1192.0 301.0 L1190.5 315.0" fill="none" stroke="#000" stroke-opacity="0.8" stroke-width="0.6"/>
<path d="M1082.0 750.8 L1130.3 718.5 L1208.2 710.5" fill="none" stroke="#000" stroke-opacity="0.8" stroke-width="0.6"/>
<path d="M1140.3 797.4 L1158.4 804.4" fill="none" stroke="#000" stroke-opacity="0.8" stroke-width="0.6"/>
<path d="M1170.5 823.0 L1178.5 828.5 L1178.0 840.6 L1174.5 854.2" fill="none" stroke="#000" stroke-opacity="0.8" stroke-width="0.6"/>
<path d="M1134.3 836.6 L1144.4 840.6 L1147.4 847.6" fill="none" stroke="#000" stroke-opacity="0.8" stroke-width="0.6"/>
<path d="M1221.7 800.4 L1234.7 844.6" fill="none" stroke="#000" stroke-opacity="0.8" stroke-width="0.6"/>
<path d="M1053.7 668.2 L1042.7 675.0 L1036.0 683.3 L982.5 686.0 L981.0 698.4" fill="none" stroke="#000" stroke-opacity="0.8" stroke-width="0.6"/>
<path d="M1053.7 668.2 L1059.0 665.5 L1077.0 661.4 L1078.4 666.8 L1101.6 671.0 L1102.5 665.5 L1112.6 666.3 L1114.0 669.6 L1131.0 670.0" fill="none" stroke="#000" stroke-opacity="0.8" stroke-width="0.6"/>
<path d="M1124.0 689.3 L1136.7 687.7 L1210.0 679.7" fill="none" stroke="#000" stroke-opacity="0.8" stroke-width="0.6"/>
<text x="349.0" y="410.5" text-anchor="middle" font-size="26" font-weight="bold" fill="#111" fill-opacity="0.84">28</text>
<text x="213.0" y="443.8" text-anchor="middle" font-size="26" font-weight="bold" fill="#111" fill-opacity="0.36">28</text>
<text x="336.0" y="455.0" text-anchor="middle" font-size="26" font-weight="bold" fill="#111" fill-opacity="0.5">31</text>
<text x="527.0" y="414.0" text-anchor="middle" font-size="26" font-weight="bold" fill="#111" fill-opacity="0.12">32</text>
<text x="495.0" y="462.0" text-anchor="middle" font-size="26" font-weight="bold" fill="#111" fill-opacity="0.2">27</text>
<text x="294.0" y="525.0" text-anchor="middle" font-size="26" font-weight="bold" fill="#111" fill-opacity="0.24">27</text>
<text x="605.0" y="525.0" text-anchor="middle" font-size="26" font-weight="bold" fill="#111" fill-opacity="0.68">26</text>
<text x="1036.0" y="541.0" text-anchor="middle" font-size="26" font-weight="bold" fill="#111" fill-opacity="0.48">30</text>
<text x="1150.8" y="154.0" text-anchor="middle" font-size="27" font-weight="bold" fill="#111" fill-opacity="0.93">32</text>
<text x="1129.0" y="833.5" text-anchor="middle" font-size="26" font-weight="bold" fill="#111" fill-opacity="0.6">28</text>
<path d="M958.7 37.9 L954.7 41.5 L954.0 36.2 M984.9 36.8 L989.7 39.3 L984.9 41.8 M1241.3 42.7 L1239.7 37.6 L1244.8 39.2 M895.5 71.2 L890.3 72.8 L891.9 67.6 M927.2 71.2 L922.1 72.8 L923.7 67.6 M958.0 68.7 L955.5 73.5 L953.0 68.7 M984.9 68.6 L989.7 71.1 L984.9 73.6 M888.6 103.4 L893.4 100.9 L892.7 106.2 M926.3 100.5 L923.8 105.2 L921.3 100.5 M958.0 100.5 L955.5 105.2 L953.0 100.5 M984.9 100.4 L989.7 102.9 L984.9 105.4 M1208.2 99.7 L1211.9 103.7 L1206.5 104.4 M952.5 133.1 L957.8 133.8 L954.2 137.8 M889.5 232.4 L892.0 227.6 L894.5 232.4 M920.4 229.3 L925.7 228.6 L923.3 233.4 M952.5 228.4 L957.8 229.2 L954.2 233.1 M985.9 226.8 L989.5 230.8 L984.2 231.5 M1018.0 226.7 L1021.2 231.0 L1015.9 231.2 M890.6 258.6 L894.3 262.6 L888.9 263.3 M926.3 259.4 L923.8 264.1 L921.3 259.4 M956.5 258.5 L956.7 263.8 L952.2 261.0 M986.8 258.3 L989.2 263.1 L983.9 262.4 M1018.3 258.4 L1021.1 262.9 L1015.8 262.7 M1048.4 259.3 L1053.2 261.8 L1048.4 264.3 M1085.0 264.3 L1080.2 261.8 L1085.0 259.3 M730.8 291.0 L735.6 293.5 L730.8 296.0 M765.8 296.9 L762.9 292.4 L768.3 292.6 M826.0 295.9 L828.5 291.2 L831.0 295.9 M893.4 296.7 L889.8 292.7 L895.1 292.0 M926.7 291.6 L923.4 295.9 L921.7 290.8 M953.2 291.0 L957.9 293.5 L953.2 296.0 M1113.4 296.8 L1113.2 291.5 L1117.7 294.3 M729.8 325.2 L734.9 323.6 L733.3 328.8 M761.6 326.1 L766.2 323.3 L766.0 328.6 M797.5 328.7 L794.7 324.1 L800.0 324.3 M828.4 328.8 L826.8 323.6 L831.9 325.2 M857.8 327.7 L860.3 322.9 L862.8 327.7 M894.4 327.8 L889.6 325.3 L894.4 322.8 M956.5 322.0 L956.7 327.4 L952.2 324.5 M1179.5 328.3 L1175.6 324.7 L1180.8 323.5 M1211.3 328.3 L1207.3 324.7 L1212.6 323.5 M794.8 354.2 L799.1 357.5 L794.0 359.1 M825.4 355.6 L830.7 356.3 L827.1 360.3 M861.1 360.5 L858.2 355.9 L863.6 356.1 M892.1 353.7 L893.7 358.8 L888.6 357.2 M1143.7 354.6 L1148.5 357.1 L1143.7 359.6 M1181.2 357.8 L1175.9 358.5 L1178.4 353.7 M1213.0 357.8 L1207.7 358.5 L1210.1 353.7 M1238.9 359.5 L1241.4 354.7 L1243.9 359.5 M826.1 386.4 L830.9 388.9 L826.1 391.4 M861.6 392.0 L858.0 388.1 L863.3 387.3 M889.6 386.4 L894.4 388.9 L889.6 391.4 M1147.6 385.8 L1146.9 391.1 L1142.9 387.5 M1179.4 385.8 L1178.7 391.1 L1174.7 387.5 M1238.9 391.3 L1241.4 386.5 L1243.9 391.3 M1018.1 424.0 L1017.9 418.6 L1022.4 421.5 M1113.0 417.5 L1116.6 421.5 L1111.3 422.2 M1148.1 417.9 L1146.5 423.0 L1143.2 418.8 M1180.9 422.2 L1175.6 421.5 L1179.2 417.5 M1212.0 423.2 L1207.2 420.7 L1212.0 418.2 M1238.9 423.0 L1241.4 418.3 L1243.9 423.0 M1020.6 449.4 L1019.9 454.7 L1015.9 451.1 M1050.9 449.0 L1052.5 454.1 L1047.4 452.5 M1147.1 449.1 L1147.3 454.5 L1142.7 451.6 M1210.4 455.8 L1207.6 451.3 L1212.9 451.5 M1238.5 452.4 L1242.8 451.0 L1241.5 455.3 M761.8 483.0 L767.1 483.2 L763.9 487.5 M1143.7 481.7 L1148.5 484.2 L1143.7 486.7 M1241.2 481.3 L1242.9 485.5 L1238.5 484.5 M761.9 514.5 L767.2 515.2 L763.6 519.2 M1142.7 516.2 L1147.6 514.2 L1146.5 519.4 M227.4 550.3 L222.7 547.8 L227.4 545.3 M351.3 544.4 L354.2 549.0 L348.8 548.8 M381.8 550.6 L383.4 545.4 L386.7 549.7 M825.4 546.2 L830.7 547.0 L827.1 550.9 M953.6 544.9 L957.9 548.2 L952.8 549.8 M984.9 545.3 L989.7 547.8 L984.9 550.3 M258.9 577.6 L256.8 581.6 L254.7 577.6 M291.3 577.4 L288.4 581.9 L286.3 577.0 M322.4 576.8 L320.8 581.9 L317.5 577.7 M351.3 582.3 L351.1 577.8 L354.9 580.2 M385.2 582.7 L381.6 578.7 L386.9 578.0 M858.2 582.3 L859.8 577.2 L863.1 581.5 M954.7 576.2 L957.6 580.7 L952.2 580.5 M987.1 576.1 L989.1 581.1 L983.9 579.9 M922.4 608.2 L926.0 612.2 L920.7 612.9 M1206.3 673.9 L1211.7 673.7 L1208.8 678.3 M1435.0 771.8 L1429.7 771.1 L1433.3 767.1" fill="none" stroke="#474747" stroke-width="1.25" stroke-linejoin="miter" stroke-miterlimit="6"/>
<path d="M1015.3 37.0 L1021.7 38.3 L1017.6 43.5 L1016.8 40.1Z M1047.0 37.0 L1053.5 38.3 L1049.4 43.5 L1048.6 40.1Z M1078.8 37.0 L1085.2 38.3 L1081.1 43.5 L1080.3 40.1Z M1109.3 38.0 L1113.4 38.0 L1112.7 35.8 L1119.3 39.3 L1112.7 42.8 L1113.4 40.6 L1109.3 40.6Z M1139.6 37.9 L1146.1 37.9 L1145.5 35.0 L1152.6 39.3 L1145.5 43.6 L1146.1 40.7 L1139.6 40.7Z M1172.4 37.9 L1177.9 37.9 L1177.3 35.3 L1183.4 39.3 L1177.3 43.3 L1177.9 40.7 L1172.4 40.7Z M1212.7 42.5 L1206.8 39.5 L1212.1 35.6 L1212.0 39.1Z M1015.3 68.8 L1021.7 70.1 L1017.6 75.3 L1016.8 71.9Z M1046.1 69.3 L1053.6 69.5 L1050.0 76.1 L1048.4 72.5Z M1077.9 71.4 L1080.8 70.3 L1079.4 68.5 L1086.8 69.5 L1081.8 75.1 L1081.7 72.8 L1078.8 73.8Z M1108.3 69.7 L1114.3 69.7 L1113.7 66.9 L1120.3 71.1 L1113.7 75.2 L1114.3 72.5 L1108.3 72.5Z M1138.6 69.7 L1146.0 69.7 L1145.4 66.5 L1153.6 71.1 L1145.4 75.7 L1146.0 72.5 L1138.6 72.5Z M1172.9 69.8 L1177.0 69.8 L1176.3 67.6 L1182.9 71.1 L1176.3 74.6 L1177.0 72.4 L1172.9 72.4Z M1213.2 73.7 L1206.9 71.8 L1211.4 67.0 L1211.9 70.5Z M824.7 103.5 L830.0 100.6 L829.2 106.6 L827.9 103.7Z M855.8 103.2 L861.9 100.6 L861.5 107.1 L858.9 104.8Z M1015.3 100.6 L1021.7 101.9 L1017.6 107.0 L1016.8 103.7Z M1046.2 103.6 L1049.0 102.3 L1047.4 100.6 L1054.9 101.0 L1050.4 106.9 L1050.1 104.6 L1047.3 105.9Z M1076.1 104.3 L1081.9 101.6 L1080.2 99.2 L1088.5 100.1 L1083.8 107.0 L1083.1 104.1 L1077.3 106.9Z M1107.7 103.2 L1113.9 101.5 L1112.6 98.9 L1120.6 101.2 L1114.8 107.2 L1114.7 104.2 L1108.4 105.9Z M1140.2 100.9 L1146.2 101.5 L1145.9 98.7 L1152.1 103.4 L1145.1 107.0 L1146.0 104.3 L1140.0 103.7Z M1176.3 99.4 L1180.4 103.8 L1174.4 104.5 L1176.8 102.5Z M792.4 135.3 L798.1 132.2 L798.3 138.8 L795.5 136.7Z M824.1 135.3 L829.9 132.2 L830.1 138.8 L827.3 136.7Z M855.2 135.3 L862.0 131.9 L861.9 139.4 L858.8 137.0Z M888.6 137.9 L890.2 135.2 L887.9 134.7 L894.3 130.7 L894.0 138.2 L892.4 136.5 L890.9 139.2Z M920.0 135.3 L925.3 132.4 L924.5 138.4 L923.2 135.5Z M984.2 132.4 L990.0 134.2 L985.1 137.8 L986.2 134.8Z M1015.5 132.1 L1021.8 133.9 L1017.2 138.7 L1016.7 135.3Z M1046.1 135.0 L1049.1 133.9 L1047.6 132.1 L1055.0 133.1 L1050.0 138.6 L1049.9 136.3 L1047.0 137.4Z M1075.2 136.5 L1081.9 133.4 L1080.0 130.8 L1089.4 131.5 L1083.8 139.1 L1083.0 136.0 L1076.4 139.1Z M1107.7 135.0 L1113.9 133.3 L1112.6 130.6 L1120.6 133.0 L1114.8 139.0 L1114.7 136.0 L1108.4 137.7Z M1141.1 133.3 L1145.2 133.3 L1144.5 131.1 L1151.1 134.6 L1144.5 138.1 L1145.2 135.9 L1141.1 135.9Z M1174.7 130.7 L1181.1 134.6 L1174.7 138.6 L1175.1 134.6Z M1207.7 131.3 L1212.2 135.3 L1206.3 136.6 L1208.6 134.4Z M760.8 164.8 L767.4 165.0 L764.3 170.8 L762.9 167.6Z M792.3 166.4 L798.5 164.3 L797.6 170.8 L795.2 168.3Z M823.5 166.8 L830.3 163.8 L829.9 171.3 L826.9 168.7Z M855.2 166.8 L862.1 163.8 L861.6 171.3 L858.7 168.7Z M888.1 169.8 L890.4 166.4 L888.2 165.7 L894.9 162.3 L894.0 169.7 L892.6 167.9 L890.2 171.3Z M919.4 167.1 L925.2 164.0 L925.4 170.6 L922.6 168.5Z M953.9 162.9 L958.1 167.3 L952.1 168.1 L954.5 166.1Z M985.7 162.9 L989.8 167.3 L983.8 168.1 L986.3 166.1Z M1016.3 163.0 L1021.9 166.4 L1016.3 169.9 L1016.7 166.4Z M1048.3 162.0 L1054.0 167.0 L1047.0 169.7 L1048.1 165.9Z M1076.6 165.0 L1082.6 165.0 L1082.0 162.3 L1088.6 166.4 L1082.0 170.6 L1082.6 167.8 L1076.6 167.8Z M1105.8 165.8 L1114.0 165.0 L1113.1 161.6 L1122.8 165.7 L1113.9 171.4 L1114.2 167.8 L1106.0 168.6Z M1140.1 165.0 L1146.1 165.0 L1145.5 162.3 L1152.1 166.4 L1145.5 170.6 L1146.1 167.8 L1140.1 167.8Z M1175.8 161.8 L1181.0 167.2 L1173.8 169.4 L1175.2 165.7Z M1208.2 162.2 L1212.3 167.4 L1205.8 168.7 L1207.4 165.6Z M1239.8 162.9 L1243.9 167.3 L1237.9 168.1 L1240.4 166.1Z M698.1 195.3 L704.2 197.7 L699.3 202.1 L699.1 198.6Z M729.9 195.3 L736.0 197.7 L731.1 202.1 L730.8 198.6Z M761.2 195.9 L767.6 197.2 L763.5 202.4 L762.7 199.0Z M792.9 195.9 L799.4 197.2 L795.3 202.4 L794.5 199.0Z M823.9 196.0 L831.4 196.8 L827.3 203.1 L826.0 199.4Z M856.5 195.9 L862.9 197.2 L858.8 202.4 L858.0 199.0Z M888.3 199.2 L893.4 195.9 L893.1 201.9 L891.5 199.1Z M920.0 199.2 L925.1 195.9 L924.8 201.9 L923.2 199.1Z M951.8 197.2 L957.9 196.8 L954.6 201.9 L954.6 198.7Z M983.8 196.5 L989.8 197.3 L985.7 201.7 L986.3 198.6Z M1015.7 195.3 L1021.8 197.7 L1016.9 202.1 L1016.7 198.6Z M1046.7 195.2 L1053.9 197.4 L1048.7 202.8 L1048.2 198.9Z M1078.7 194.9 L1085.7 197.6 L1080.1 202.6 L1079.9 198.7Z M1107.3 196.8 L1114.2 196.8 L1113.6 193.7 L1121.3 198.2 L1113.6 202.7 L1114.2 199.6 L1107.3 199.6Z M1139.6 196.8 L1146.1 196.8 L1145.5 193.9 L1152.6 198.2 L1145.5 202.5 L1146.1 199.6 L1139.6 199.6Z M1174.4 196.5 L1180.4 197.3 L1176.3 201.7 L1176.8 198.6Z M1208.6 201.9 L1208.3 195.9 L1213.4 199.2 L1210.2 199.1Z M730.4 226.6 L736.0 230.0 L730.4 233.4 L730.8 230.0Z M761.8 226.1 L768.2 230.0 L761.8 233.9 L762.2 230.0Z M791.2 228.6 L796.8 228.6 L796.2 226.0 L802.2 230.0 L796.2 234.0 L796.8 231.4 L791.2 231.4Z M822.0 228.6 L828.5 228.6 L827.9 225.7 L835.0 230.0 L827.9 234.3 L828.5 231.4 L822.0 231.4Z M858.1 226.1 L863.0 230.5 L856.9 232.9 L857.9 229.6Z M1047.5 228.0 L1053.4 229.3 L1048.9 233.3 L1049.8 230.3Z M1078.9 228.9 L1084.9 228.6 L1081.6 233.7 L1081.6 230.5Z M1110.7 227.4 L1117.0 229.3 L1112.5 234.0 L1112.0 230.6Z M1142.3 227.7 L1148.7 229.0 L1144.6 234.2 L1143.8 230.8Z M1173.5 230.7 L1179.3 227.6 L1179.4 234.1 L1176.7 232.1Z M1211.3 236.9 L1208.4 230.7 L1205.9 232.5 L1206.7 223.6 L1214.0 228.7 L1210.9 229.5 L1213.8 235.7Z M730.5 259.0 L735.9 261.8 L730.5 264.5 L732.1 261.8Z M762.3 259.0 L767.7 261.8 L762.3 264.5 L763.9 261.8Z M790.7 260.4 L796.7 260.4 L796.1 257.6 L802.7 261.8 L796.1 265.9 L796.7 263.2 L790.7 263.2Z M826.0 257.3 L831.7 262.3 L824.7 265.1 L825.8 261.3Z M858.6 257.0 L863.3 262.9 L855.9 264.3 L857.7 260.8Z M1111.6 264.5 L1114.3 259.1 L1117.1 264.5 L1114.3 262.8Z M1142.7 265.5 L1145.7 258.6 L1150.4 264.4 L1146.5 264.5Z M1174.9 265.9 L1177.0 258.7 L1182.5 263.8 L1178.6 264.4Z M1211.5 269.1 L1208.4 262.5 L1205.8 264.4 L1206.5 255.0 L1214.1 260.5 L1211.0 261.3 L1214.1 268.0Z M1240.5 266.4 L1240.2 263.3 L1238.1 264.2 L1241.0 257.3 L1245.0 263.5 L1242.8 263.0 L1243.1 266.1Z M799.5 290.8 L796.7 296.2 L794.0 290.8 L796.7 292.5Z M858.8 289.4 L862.9 294.5 L856.5 295.8 L858.0 292.7Z M984.8 289.1 L990.5 294.1 L983.5 296.8 L984.6 293.1Z M1013.1 292.1 L1019.1 292.1 L1018.5 289.4 L1025.1 293.5 L1018.5 297.7 L1019.1 294.9 L1013.1 294.9Z M1045.3 292.1 L1050.9 292.1 L1050.3 289.5 L1056.3 293.5 L1050.3 297.6 L1050.9 294.9 L1045.3 294.9Z M1080.8 289.5 L1085.3 294.3 L1079.0 296.1 L1080.3 292.9Z M1142.9 289.6 L1149.3 293.5 L1142.9 297.5 L1143.3 293.5Z M1174.7 289.6 L1181.1 293.5 L1174.7 297.5 L1175.1 293.5Z M1207.0 297.1 L1208.9 290.8 L1213.7 295.4 L1210.2 295.9Z M1237.5 295.7 L1241.9 290.8 L1244.3 296.9 L1241.0 295.9Z M667.2 320.9 L672.9 325.9 L665.9 328.6 L667.0 324.8Z M700.0 321.1 L704.1 326.3 L697.7 327.6 L699.2 324.5Z M927.3 327.0 L921.2 326.2 L925.4 321.8 L924.8 325.0Z M984.1 321.4 L990.5 325.3 L984.1 329.2 L984.5 325.3Z M1010.6 323.9 L1018.8 323.9 L1018.2 320.4 L1027.6 325.3 L1018.2 330.2 L1018.8 326.7 L1010.6 326.7Z M1043.3 323.9 L1050.7 323.9 L1050.1 320.7 L1058.3 325.3 L1050.1 329.9 L1050.7 326.7 L1043.3 326.7Z M1079.4 321.4 L1085.8 325.3 L1079.4 329.2 L1079.8 325.3Z M1112.4 322.0 L1116.9 326.0 L1111.0 327.3 L1113.3 325.0Z M1142.9 327.5 L1146.6 322.7 L1148.3 328.5 L1145.9 326.4Z M1238.0 328.1 L1241.4 322.5 L1244.8 328.1 L1241.4 327.7Z M189.1 360.1 L191.7 357.0 L189.6 356.1 L196.5 353.3 L195.0 360.6 L193.7 358.6 L191.1 361.8Z M220.5 360.4 L224.0 356.2 L221.6 354.9 L228.6 352.9 L227.8 360.1 L226.2 358.0 L222.6 362.2Z M251.2 360.7 L255.8 356.1 L253.3 354.5 L261.4 352.5 L259.4 360.6 L257.8 358.1 L253.2 362.7Z M280.7 360.6 L287.6 356.1 L285.2 353.4 L295.7 352.5 L290.5 361.7 L289.1 358.4 L282.2 362.9Z M311.8 360.4 L319.6 355.9 L317.3 353.1 L328.1 352.6 L322.3 361.7 L321.0 358.3 L313.2 362.8Z M344.0 360.1 L351.2 356.0 L348.9 353.3 L359.5 352.9 L353.8 361.8 L352.6 358.4 L345.4 362.6Z M376.8 360.0 L383.0 356.0 L380.7 353.6 L390.2 353.0 L385.7 361.4 L384.5 358.4 L378.3 362.4Z M408.7 360.3 L414.7 356.0 L412.4 353.8 L421.8 352.8 L417.6 361.3 L416.3 358.3 L410.3 362.5Z M441.1 359.1 L446.6 355.9 L444.7 353.7 L453.0 353.9 L449.0 361.2 L448.0 358.3 L442.5 361.6Z M472.8 359.1 L478.4 355.9 L476.4 353.7 L484.8 353.9 L480.7 361.2 L479.8 358.3 L474.2 361.6Z M503.8 358.2 L510.3 355.8 L508.7 353.1 L517.5 354.7 L511.8 361.5 L511.3 358.4 L504.8 360.8Z M536.5 357.3 L542.3 355.7 L541.0 353.2 L548.5 355.5 L543.2 361.3 L543.0 358.5 L537.2 360.0Z M569.3 356.7 L573.3 356.0 L572.2 353.9 L579.3 356.2 L573.5 360.8 L573.8 358.5 L569.7 359.2Z M601.6 356.2 L604.7 355.9 L603.8 353.8 L610.7 356.7 L604.4 360.8 L604.9 358.5 L601.8 358.8Z M633.3 356.6 L636.3 356.1 L635.3 354.0 L642.4 356.3 L636.5 360.9 L636.8 358.6 L633.7 359.2Z M666.1 354.5 L672.4 356.4 L667.9 361.1 L667.4 357.7Z M698.0 355.4 L704.0 356.2 L699.9 360.6 L700.4 357.5Z M729.7 355.4 L735.8 356.2 L731.6 360.6 L732.2 357.5Z M761.2 354.8 L767.6 356.1 L763.5 361.3 L762.7 357.9Z M926.5 359.9 L921.1 357.1 L926.5 354.4 L924.9 357.1Z M958.2 359.9 L952.8 357.1 L958.2 354.4 L956.6 357.1Z M985.7 353.6 L989.8 358.0 L983.8 358.8 L986.3 356.7Z M1016.6 352.7 L1022.2 357.7 L1015.2 360.4 L1016.3 356.6Z M1048.3 352.7 L1054.0 357.7 L1047.0 360.4 L1048.1 356.6Z M1080.1 352.7 L1085.7 357.7 L1078.7 360.4 L1079.9 356.6Z M1111.1 353.2 L1117.5 357.1 L1111.1 361.0 L1111.6 357.1Z M188.7 392.2 L192.3 387.9 L189.9 386.7 L196.8 384.7 L196.0 391.9 L194.4 389.7 L190.8 394.0Z M219.5 392.5 L224.0 387.9 L221.6 386.3 L229.7 384.3 L227.6 392.4 L226.0 389.9 L221.5 394.5Z M250.9 392.0 L255.9 387.8 L253.6 386.0 L261.8 384.7 L259.1 392.6 L257.7 390.0 L252.7 394.1Z M280.8 392.6 L287.6 387.9 L285.1 385.3 L295.5 384.0 L290.7 393.4 L289.2 390.2 L282.4 394.9Z M311.0 392.7 L320.5 387.2 L318.2 384.3 L329.0 383.9 L323.2 393.0 L321.9 389.6 L312.4 395.1Z M342.7 393.8 L352.5 386.9 L350.0 384.3 L360.7 382.9 L355.7 392.5 L354.1 389.2 L344.3 396.0Z M377.5 392.1 L382.9 387.8 L380.6 385.8 L389.4 384.6 L386.1 392.8 L384.6 390.0 L379.2 394.3Z M408.9 391.2 L414.8 387.7 L412.8 385.4 L421.7 385.4 L417.2 393.1 L416.2 390.1 L410.3 393.6Z M440.4 390.6 L446.7 387.7 L444.9 385.1 L453.7 385.9 L448.6 393.2 L447.9 390.2 L441.6 393.1Z M472.1 390.0 L478.6 387.6 L477.0 384.9 L485.7 386.5 L480.0 393.3 L479.5 390.2 L473.0 392.6Z M503.3 388.8 L510.5 387.5 L509.4 384.5 L518.3 387.6 L511.0 393.6 L511.0 390.3 L503.8 391.6Z M535.0 388.8 L542.3 387.5 L541.1 384.5 L550.0 387.6 L542.7 393.6 L542.8 390.3 L535.5 391.6Z M569.4 387.6 L573.5 387.6 L572.8 385.4 L579.4 388.9 L572.8 392.4 L573.5 390.2 L569.4 390.2Z M602.3 385.6 L609.3 388.3 L603.7 393.3 L603.5 389.4Z M634.1 386.6 L640.6 387.9 L636.5 393.1 L635.7 389.7Z M665.4 386.3 L672.7 387.8 L668.0 393.7 L667.1 389.8Z M696.9 386.7 L704.4 387.5 L700.2 393.8 L699.0 390.0Z M726.6 389.2 L732.8 387.5 L731.5 384.9 L739.5 387.2 L733.7 393.2 L733.5 390.2 L727.3 391.9Z M757.8 388.7 L764.6 387.5 L763.5 384.6 L771.9 387.7 L765.1 393.4 L765.1 390.3 L758.3 391.5Z M793.5 385.0 L799.9 388.9 L793.5 392.8 L794.0 388.9Z M923.1 384.5 L926.2 390.3 L919.6 390.5 L921.7 387.7Z M955.2 385.0 L957.6 390.6 L951.7 389.3 L954.7 388.2Z M991.2 386.7 L986.8 391.6 L984.4 385.5 L987.7 386.5Z M1021.8 386.2 L1019.1 391.6 L1016.3 386.2 L1019.1 387.8Z M1054.3 387.3 L1049.9 391.4 L1049.2 385.4 L1051.2 387.9Z M1083.6 385.2 L1083.9 391.2 L1078.8 387.9 L1082.0 387.9Z M1112.7 385.4 L1116.9 389.8 L1110.9 390.5 L1113.3 388.5Z M1212.4 386.2 L1209.6 391.6 L1206.9 386.2 L1209.6 387.8Z M219.5 424.3 L224.0 419.7 L221.6 418.1 L229.7 416.1 L227.6 424.2 L226.0 421.7 L221.5 426.2Z M250.9 423.8 L255.9 419.6 L253.6 417.8 L261.8 416.5 L259.1 424.4 L257.7 421.8 L252.7 425.9Z M281.4 423.2 L287.8 419.5 L285.6 417.0 L295.1 416.9 L290.2 425.0 L289.2 421.9 L282.8 425.6Z M310.2 423.8 L321.1 418.8 L319.0 415.7 L329.9 416.2 L323.3 424.8 L322.3 421.3 L311.4 426.4Z M341.1 424.3 L353.8 418.3 L351.7 415.3 L362.5 415.8 L355.9 424.4 L355.0 420.9 L342.3 426.8Z M378.7 423.1 L383.0 419.6 L380.9 417.9 L388.1 417.1 L386.0 424.1 L384.8 421.7 L380.5 425.3Z M411.1 421.8 L413.8 420.2 L412.1 418.7 L419.5 418.4 L415.6 424.7 L415.1 422.5 L412.4 424.0Z M440.8 421.6 L446.9 419.4 L445.3 416.8 L453.5 418.4 L448.2 424.9 L447.8 422.0 L441.8 424.2Z M472.5 421.0 L478.7 419.3 L477.4 416.7 L485.4 419.0 L479.6 425.0 L479.5 422.0 L473.2 423.7Z M503.8 420.5 L510.6 419.3 L509.4 416.4 L517.8 419.4 L511.0 425.2 L511.0 422.1 L504.2 423.3Z M535.6 419.9 L542.4 419.3 L541.6 416.3 L549.6 420.0 L542.4 425.2 L542.7 422.1 L535.8 422.7Z M571.2 416.7 L577.6 420.7 L571.2 424.6 L571.7 420.7Z M601.8 418.1 L609.2 419.6 L604.5 425.4 L603.6 421.6Z M634.1 418.4 L640.6 419.7 L636.5 424.8 L635.7 421.5Z M665.9 418.4 L672.3 419.7 L668.2 424.8 L667.4 421.5Z M696.9 418.5 L704.4 419.3 L700.2 425.6 L699.0 421.8Z M728.2 422.0 L731.8 420.0 L730.1 418.4 L737.6 418.2 L733.6 424.5 L733.1 422.2 L729.5 424.3Z M759.3 420.7 L764.7 419.3 L763.4 416.9 L770.3 419.2 L765.5 424.7 L765.4 422.0 L760.0 423.4Z M793.5 416.7 L799.9 420.7 L793.5 424.6 L794.0 420.7Z M825.7 417.2 L831.3 420.7 L825.7 424.1 L826.1 420.7Z M857.8 416.2 L863.4 421.2 L856.4 424.0 L857.5 420.2Z M889.5 416.2 L895.2 421.2 L888.2 424.0 L889.3 420.2Z M921.7 416.0 L926.9 421.5 L919.7 423.6 L921.1 419.9Z M950.9 421.4 L953.7 420.1 L952.2 418.4 L959.6 418.8 L955.1 424.7 L954.8 422.4 L952.0 423.7Z M985.1 417.5 L990.0 421.1 L984.2 422.9 L986.2 420.5Z M1053.6 418.0 L1050.8 423.4 L1048.1 418.0 L1050.8 419.6Z M1081.0 417.2 L1085.1 421.6 L1079.1 422.3 L1081.6 420.3Z M220.8 456.1 L223.9 451.6 L221.5 450.6 L228.2 447.9 L228.0 455.2 L226.2 453.2 L223.1 457.7Z M253.7 456.0 L255.1 453.2 L252.8 452.9 L258.7 448.4 L259.1 455.8 L257.4 454.3 L256.1 457.1Z M282.5 455.0 L287.7 451.3 L285.6 449.3 L293.9 448.7 L290.5 456.3 L289.3 453.6 L284.1 457.3Z M309.8 453.8 L321.4 450.7 L319.9 447.4 L330.5 449.7 L322.5 457.0 L322.2 453.4 L310.6 456.5Z M341.5 453.3 L353.3 450.8 L351.9 447.4 L362.4 450.3 L354.0 457.1 L353.9 453.5 L342.1 456.0Z M378.4 454.0 L383.2 451.2 L381.4 449.2 L388.6 449.7 L385.4 456.2 L384.6 453.6 L379.8 456.4Z M410.8 454.2 L414.1 451.9 L412.3 450.5 L419.7 449.6 L416.3 456.2 L415.6 454.0 L412.3 456.4Z M441.9 454.0 L446.7 451.2 L444.9 449.2 L452.1 449.7 L448.9 456.2 L448.1 453.6 L443.3 456.4Z M473.7 454.0 L478.5 451.2 L476.7 449.2 L483.9 449.7 L480.7 456.2 L479.9 453.6 L475.1 456.4Z M504.9 453.7 L510.3 451.2 L508.6 448.9 L516.3 449.9 L512.1 456.5 L511.5 453.7 L506.1 456.2Z M537.1 453.5 L542.1 451.2 L540.5 449.0 L547.6 450.1 L543.9 456.3 L543.3 453.7 L538.3 456.0Z M568.5 454.2 L573.7 451.2 L571.8 449.1 L579.6 449.4 L576.0 456.3 L575.1 453.7 L569.9 456.7Z M602.1 449.5 L609.3 451.6 L604.1 457.1 L603.5 453.2Z M634.1 450.2 L640.6 451.5 L636.5 456.6 L635.7 453.3Z M665.4 449.9 L672.7 451.3 L668.0 457.2 L667.1 453.4Z M697.5 450.5 L704.0 451.3 L700.4 456.7 L699.3 453.5Z M728.8 453.1 L734.6 450.0 L734.8 456.6 L732.0 454.5Z M761.2 450.2 L767.6 451.5 L763.5 456.6 L762.7 453.3Z M794.6 449.3 L799.4 452.9 L793.6 454.7 L795.7 452.3Z M826.3 449.3 L831.2 452.9 L825.4 454.7 L827.4 452.3Z M857.8 448.0 L863.4 453.0 L856.4 455.7 L857.5 452.0Z M886.9 452.5 L890.8 451.4 L889.6 449.5 L896.8 451.1 L891.4 456.2 L891.5 453.9 L887.5 455.0Z M918.1 453.0 L923.3 451.1 L921.9 448.9 L928.9 450.6 L924.6 456.4 L924.3 453.7 L919.1 455.6Z M950.5 453.4 L954.2 451.6 L952.6 449.9 L960.1 450.3 L955.6 456.3 L955.3 454.0 L951.6 455.7Z M984.8 448.0 L990.5 453.0 L983.5 455.7 L984.6 452.0Z M1078.4 450.4 L1081.4 450.9 L1081.1 448.6 L1087.0 453.2 L1079.9 455.5 L1081.0 453.5 L1077.9 452.9Z M1112.5 448.4 L1117.0 453.2 L1110.7 455.0 L1112.0 451.8Z M1181.0 450.1 L1177.5 455.1 L1175.5 449.4 L1178.0 451.4Z M190.4 487.6 L192.8 481.5 L197.2 486.4 L193.7 486.6Z M220.7 484.9 L226.5 481.8 L226.6 488.4 L223.9 486.3Z M252.6 487.2 L255.2 484.1 L253.1 483.2 L260.0 480.4 L258.5 487.7 L257.2 485.7 L254.6 488.9Z M280.5 487.3 L287.7 483.1 L285.4 480.4 L295.9 480.0 L290.3 488.9 L289.1 485.6 L281.9 489.7Z M311.1 487.0 L320.2 482.7 L318.1 479.7 L328.9 480.2 L322.4 488.8 L321.4 485.3 L312.3 489.5Z M343.2 486.3 L351.6 482.9 L349.7 479.8 L360.4 480.8 L353.4 489.1 L352.6 485.5 L344.3 488.9Z M375.6 486.5 L383.0 483.1 L381.0 480.1 L391.6 480.6 L385.2 489.0 L384.2 485.6 L376.7 489.1Z M408.4 486.8 L414.8 483.1 L412.7 480.6 L422.1 480.5 L417.3 488.6 L416.2 485.5 L409.8 489.2Z M440.9 485.7 L446.7 483.0 L445.0 480.6 L453.3 481.5 L448.6 488.4 L447.9 485.5 L442.1 488.2Z M472.7 485.7 L478.5 483.0 L476.7 480.6 L485.0 481.5 L480.4 488.4 L479.7 485.5 L473.8 488.2Z M505.4 485.8 L510.2 483.0 L508.4 481.0 L515.7 481.5 L512.4 488.0 L511.6 485.4 L506.8 488.2Z M538.0 486.4 L541.1 483.8 L539.2 482.6 L546.5 481.0 L543.7 487.9 L542.8 485.8 L539.7 488.4Z M568.3 486.8 L573.6 483.1 L571.4 481.1 L579.7 480.5 L576.4 488.1 L575.2 485.4 L569.9 489.1Z M601.2 485.6 L604.8 483.5 L603.0 482.0 L610.5 481.7 L606.5 488.1 L606.1 485.8 L602.5 487.8Z M633.3 484.9 L636.1 483.6 L634.6 481.9 L642.0 482.3 L637.5 488.3 L637.2 486.0 L634.4 487.3Z M665.0 484.1 L668.0 483.3 L666.8 481.4 L674.0 483.1 L668.6 488.1 L668.7 485.8 L665.7 486.6Z M697.1 481.6 L704.5 483.1 L699.8 489.0 L698.9 485.2Z M729.7 482.6 L735.8 483.3 L731.6 487.7 L732.2 484.6Z M793.6 482.0 L799.4 483.8 L794.6 487.4 L795.7 484.4Z M825.8 481.5 L831.2 484.2 L825.8 487.0 L827.4 484.2Z M857.5 480.8 L863.1 484.2 L857.5 487.7 L857.9 484.2Z M884.9 484.3 L891.6 482.9 L890.4 480.0 L898.9 482.8 L892.3 488.7 L892.2 485.6 L885.5 487.0Z M915.7 484.9 L923.2 482.9 L921.8 479.8 L931.5 482.1 L924.2 489.0 L923.9 485.6 L916.4 487.6Z M950.4 484.3 L954.3 483.2 L953.1 481.3 L960.4 482.9 L954.9 488.0 L955.0 485.7 L951.0 486.8Z M983.0 481.6 L990.3 483.1 L985.6 489.0 L984.7 485.2Z M1018.1 480.5 L1021.4 485.6 L1015.3 485.3 L1018.1 483.7Z M1049.0 480.2 L1053.5 484.9 L1047.2 486.8 L1048.5 483.6Z M1076.6 482.8 L1082.6 482.8 L1082.0 480.1 L1088.6 484.2 L1082.0 488.4 L1082.6 485.6 L1076.6 485.6Z M1110.8 480.6 L1117.5 483.9 L1111.5 488.4 L1111.6 484.5Z M1176.2 479.4 L1180.9 485.3 L1173.5 486.8 L1175.3 483.3Z M1209.9 488.1 L1207.6 482.5 L1213.5 483.8 L1210.4 484.9Z M128.5 520.5 L128.5 517.4 L126.3 518.1 L129.8 511.5 L133.3 518.1 L131.1 517.4 L131.1 520.5Z M157.6 519.2 L161.5 512.8 L165.5 519.2 L161.5 518.8Z M191.6 519.5 L192.4 513.5 L196.8 517.6 L193.7 517.0Z M221.3 517.0 L226.4 513.7 L226.1 519.7 L224.5 516.9Z M252.2 518.2 L255.3 515.6 L253.3 514.3 L260.7 512.8 L257.8 519.7 L257.0 517.6 L253.8 520.2Z M280.5 519.0 L287.7 514.9 L285.4 512.2 L295.9 511.8 L290.3 520.7 L289.1 517.3 L281.9 521.5Z M313.1 518.3 L319.6 514.8 L317.5 512.3 L327.0 512.5 L321.8 520.4 L320.9 517.3 L314.4 520.8Z M346.6 517.5 L351.4 514.8 L349.6 512.8 L356.9 513.2 L353.6 519.7 L352.8 517.2 L348.0 520.0Z M377.0 518.1 L383.1 514.8 L381.1 512.4 L390.0 512.7 L385.3 520.3 L384.4 517.3 L378.3 520.5Z M408.4 518.5 L414.8 514.9 L412.7 512.4 L422.1 512.2 L417.3 520.4 L416.2 517.3 L409.8 521.0Z M440.0 517.9 L446.7 514.8 L444.8 512.1 L454.2 512.8 L448.6 520.5 L447.8 517.3 L441.2 520.4Z M472.7 517.5 L478.5 514.8 L476.7 512.4 L485.0 513.3 L480.4 520.2 L479.7 517.3 L473.8 520.0Z M506.4 517.1 L509.0 515.6 L507.3 514.0 L514.8 513.8 L510.8 520.1 L510.3 517.8 L507.7 519.4Z M540.2 518.9 L542.4 513.3 L545.6 518.5 L542.8 517.1Z M571.1 513.1 L577.2 515.5 L572.3 519.9 L572.0 516.4Z M603.0 512.1 L609.4 516.0 L603.0 519.9 L603.4 516.0Z M632.8 516.5 L636.6 515.1 L635.2 513.3 L642.6 514.3 L637.6 519.8 L637.5 517.5 L633.7 518.9Z M665.0 515.5 L668.1 515.0 L667.0 512.9 L674.1 515.2 L668.2 519.8 L668.5 517.5 L665.5 518.1Z M698.0 518.8 L701.5 513.2 L704.9 518.8 L701.5 518.4Z M730.5 513.2 L735.9 516.0 L730.5 518.8 L732.1 516.0Z M793.4 514.0 L799.3 515.3 L794.8 519.4 L795.7 516.3Z M825.4 513.8 L831.2 515.5 L826.3 519.2 L827.4 516.2Z M856.9 513.1 L863.0 515.5 L858.1 519.9 L857.9 516.4Z M886.4 515.6 L891.8 514.6 L890.8 512.1 L897.4 515.0 L892.2 520.0 L892.3 517.4 L886.8 518.3Z M917.7 516.7 L923.3 514.7 L921.8 512.3 L929.4 513.9 L924.6 520.1 L924.3 517.3 L918.6 519.4Z M951.2 513.4 L958.5 514.9 L953.9 520.8 L953.0 516.9Z M983.0 513.4 L990.3 514.9 L985.6 520.8 L984.7 516.9Z M1013.4 513.6 L1019.3 514.6 L1019.2 511.8 L1025.0 517.0 L1017.7 520.0 L1018.8 517.4 L1012.9 516.3Z M1043.7 515.2 L1050.6 514.6 L1049.7 511.6 L1057.8 515.4 L1050.5 520.5 L1050.8 517.4 L1044.0 518.0Z M1075.6 514.6 L1082.5 514.6 L1081.9 511.5 L1089.6 516.0 L1081.9 520.5 L1082.5 517.4 L1075.6 517.4Z M1109.3 514.7 L1113.4 514.7 L1112.7 512.5 L1119.3 516.0 L1112.7 519.5 L1113.4 517.3 L1109.3 517.3Z M1178.8 519.7 L1175.5 514.6 L1181.6 515.0 L1178.8 516.5Z M1208.2 511.8 L1212.3 517.0 L1205.8 518.3 L1207.4 515.2Z M30.6 551.0 L34.5 544.6 L38.4 551.0 L34.5 550.5Z M62.3 551.0 L66.3 544.6 L70.2 551.0 L66.3 550.5Z M94.1 551.0 L98.0 544.6 L101.9 551.0 L98.0 550.5Z M125.9 551.0 L129.8 544.6 L133.7 551.0 L129.8 550.5Z M160.6 544.0 L163.9 549.1 L157.8 548.8 L160.6 547.2Z M196.1 551.2 L190.5 547.8 L196.1 544.4 L195.7 547.8Z M260.2 545.9 L256.1 550.4 L254.9 544.5 L257.1 546.7Z M292.4 545.5 L288.2 550.6 L285.6 544.5 L288.9 545.4Z M323.3 545.3 L320.1 550.5 L317.8 544.9 L320.4 546.7Z M408.4 550.3 L414.8 546.6 L412.7 544.2 L422.1 544.0 L417.3 552.1 L416.2 549.1 L409.8 552.7Z M439.1 550.1 L446.6 546.6 L444.5 543.7 L455.1 544.2 L448.7 552.6 L447.7 549.2 L440.3 552.6Z M474.0 550.2 L478.3 546.7 L476.1 545.1 L483.4 544.2 L481.3 551.2 L480.1 548.8 L475.8 552.4Z M506.5 548.5 L512.3 545.4 L512.5 551.9 L509.7 549.9Z M539.5 550.9 L542.4 545.0 L546.3 550.3 L542.9 550.2Z M570.7 548.7 L575.8 545.4 L575.5 551.5 L573.9 548.7Z M602.4 545.5 L608.8 546.8 L604.7 552.0 L603.9 548.6Z M633.6 545.2 L640.9 546.7 L636.3 552.6 L635.4 548.7Z M665.9 544.5 L672.9 547.2 L667.2 552.2 L667.0 548.3Z M699.3 543.9 L704.2 548.3 L698.1 550.7 L699.1 547.4Z M730.7 543.4 L736.4 548.3 L729.4 551.1 L730.5 547.3Z M759.8 547.8 L763.8 546.8 L762.5 544.8 L769.8 546.5 L764.3 551.6 L764.4 549.3 L760.5 550.3Z M793.3 546.1 L799.3 546.9 L795.1 551.3 L795.7 548.1Z M858.1 544.6 L862.9 548.2 L857.1 550.0 L859.2 547.6Z M890.4 544.3 L894.6 548.7 L888.5 549.4 L891.0 547.4Z M922.3 543.6 L926.4 548.7 L920.0 550.0 L921.5 547.0Z M1013.5 546.9 L1019.0 546.4 L1018.2 543.8 L1024.5 547.3 L1018.9 551.8 L1019.2 549.2 L1013.7 549.7Z M1044.8 546.4 L1050.8 546.4 L1050.2 543.6 L1056.8 547.8 L1050.2 551.9 L1050.8 549.2 L1044.8 549.2Z M1079.0 551.3 L1082.3 544.6 L1086.8 550.6 L1082.8 550.5Z M1111.4 551.1 L1113.9 545.0 L1118.2 549.9 L1114.8 550.2Z M1141.7 547.3 L1148.1 545.8 L1146.5 552.2 L1144.4 549.5Z M1173.9 551.0 L1177.9 544.6 L1181.8 551.0 L1177.9 550.5Z M1208.2 554.3 L1208.2 547.8 L1205.3 548.4 L1209.6 541.3 L1213.9 548.4 L1211.0 547.8 L1211.0 554.3Z M30.6 582.8 L34.5 576.4 L38.4 582.8 L34.5 582.3Z M63.1 575.6 L69.5 579.6 L63.1 583.5 L63.5 579.6Z M94.8 575.6 L101.2 579.6 L94.8 583.5 L95.3 579.6Z M127.3 575.9 L132.6 579.8 L126.7 582.7 L127.4 579.4Z M165.1 580.9 L159.1 580.7 L162.8 575.9 L162.5 579.1Z M196.0 582.3 L190.6 579.6 L196.0 576.8 L194.4 579.6Z M228.0 582.1 L222.4 579.8 L227.5 576.6 L226.1 579.5Z M410.6 578.6 L418.1 577.5 L415.7 584.6 L413.5 581.3Z M443.1 581.5 L445.5 579.5 L443.5 578.2 L450.8 576.7 L448.0 583.6 L447.1 581.5 L444.8 583.4Z M474.8 580.3 L480.5 577.1 L480.7 583.7 L477.9 581.6Z M507.0 582.8 L510.9 576.4 L514.8 582.8 L510.9 582.3Z M539.2 582.4 L542.7 576.8 L546.1 582.4 L542.7 582.0Z M571.2 582.6 L574.2 576.8 L578.1 582.1 L574.6 582.0Z M602.4 580.5 L607.5 577.2 L607.2 583.3 L605.6 580.5Z M633.0 578.6 L640.4 577.5 L638.0 584.6 L635.8 581.3Z M664.4 581.6 L668.9 578.4 L666.9 576.6 L674.2 576.4 L671.5 583.2 L670.5 580.7 L666.0 583.9Z M694.7 581.8 L700.7 578.4 L698.6 576.0 L707.5 576.1 L703.1 583.8 L702.1 580.8 L696.1 584.3Z M726.6 580.5 L732.7 578.3 L731.1 575.7 L739.3 577.3 L734.1 583.8 L733.7 580.9 L727.6 583.1Z M757.4 580.1 L764.5 578.2 L763.1 575.3 L772.2 577.6 L765.4 584.2 L765.2 581.0 L758.1 582.9Z M794.7 574.9 L799.8 580.4 L792.6 582.5 L794.1 578.8Z M826.9 576.1 L831.0 580.5 L825.0 581.2 L827.5 579.2Z M890.1 576.2 L894.6 580.3 L888.7 581.5 L891.0 579.3Z M921.6 576.4 L926.4 580.0 L920.6 581.8 L922.7 579.4Z M1016.9 576.4 L1021.7 580.0 L1015.9 581.8 L1018.0 579.4Z M1048.3 575.9 L1053.6 579.8 L1047.7 582.7 L1048.4 579.4Z M1079.8 582.3 L1082.6 576.9 L1085.3 582.3 L1082.6 580.6Z M1111.5 576.1 L1117.1 579.6 L1111.5 583.0 L1111.9 579.6Z M1140.5 583.2 L1145.1 578.6 L1142.6 577.0 L1150.7 575.0 L1148.7 583.1 L1147.1 580.6 L1142.5 585.1Z M1174.3 584.0 L1176.6 578.9 L1174.0 578.4 L1180.2 574.6 L1181.3 581.8 L1179.1 580.1 L1176.8 585.1Z M1208.2 585.6 L1208.2 579.6 L1205.5 580.2 L1209.6 573.6 L1213.8 580.2 L1211.0 579.6 L1211.0 585.6Z M890.4 607.8 L894.6 612.3 L888.5 613.0 L891.0 611.0Z M953.4 608.2 L958.2 611.8 L952.4 613.6 L954.5 611.2Z M984.1 607.4 L990.5 611.3 L984.1 615.3 L984.5 611.3Z M1016.6 606.9 L1022.2 611.9 L1015.2 614.6 L1016.3 610.9Z M1049.4 607.2 L1053.5 612.3 L1047.0 613.6 L1048.6 610.5Z M1078.8 609.1 L1085.2 610.4 L1081.1 615.5 L1080.3 612.2Z M1110.2 613.6 L1112.4 611.4 L1110.4 610.4 L1117.5 608.2 L1115.3 615.3 L1114.3 613.2 L1112.1 615.4Z M1140.2 615.3 L1145.0 610.4 L1142.5 608.7 L1151.0 606.4 L1148.8 615.0 L1147.0 612.4 L1142.1 617.3Z M1173.6 613.2 L1176.0 611.2 L1174.0 610.0 L1181.3 608.4 L1178.5 615.4 L1177.6 613.2 L1175.2 615.2Z M1205.8 609.1 L1212.3 610.4 L1208.2 615.5 L1207.4 612.2Z M953.4 639.9 L958.2 643.6 L952.4 645.4 L954.5 642.9Z M981.3 641.7 L987.3 641.7 L986.7 639.0 L993.3 643.1 L986.7 647.3 L987.3 644.5 L981.3 644.5Z M1012.6 641.7 L1019.0 641.7 L1018.4 638.8 L1025.6 643.1 L1018.4 647.4 L1019.0 644.5 L1012.6 644.5Z M1046.5 640.5 L1053.8 642.0 L1049.2 647.9 L1048.2 644.1Z M1078.2 643.8 L1084.0 640.7 L1084.2 647.3 L1081.4 645.2Z M1109.3 643.5 L1116.2 640.5 L1115.7 648.0 L1112.8 645.4Z M1141.8 641.9 L1148.4 641.5 L1145.8 647.5 L1144.1 644.5Z M1174.5 640.2 L1180.6 642.6 L1175.7 647.0 L1175.5 643.5Z M1206.8 639.7 L1212.4 643.1 L1206.8 646.5 L1207.2 643.1Z M953.4 671.7 L958.2 675.4 L952.4 677.1 L954.5 674.7Z M985.5 670.9 L990.0 675.6 L983.7 677.5 L985.0 674.3Z M1015.3 672.6 L1021.7 673.9 L1017.6 679.1 L1016.8 675.7Z M1047.0 672.6 L1053.5 673.9 L1049.4 679.1 L1048.6 675.7Z M1078.2 675.6 L1084.0 672.5 L1084.2 679.0 L1081.4 677.0Z M1110.0 675.6 L1115.7 672.5 L1115.9 679.0 L1113.1 677.0Z M1142.3 672.6 L1148.7 673.9 L1144.6 679.1 L1143.8 675.7Z M1174.4 673.2 L1180.4 674.0 L1176.3 678.4 L1176.8 675.3Z M1015.3 704.4 L1021.7 705.7 L1017.6 710.9 L1016.8 707.5Z M1047.0 704.4 L1053.5 705.7 L1049.4 710.9 L1048.6 707.5Z M1078.8 704.4 L1085.2 705.7 L1081.1 710.9 L1080.3 707.5Z M1110.5 704.4 L1117.0 705.7 L1112.9 710.9 L1112.1 707.5Z M1142.3 704.4 L1148.7 705.7 L1144.6 710.9 L1143.8 707.5Z M1174.1 704.4 L1180.5 705.7 L1176.4 710.9 L1175.6 707.5Z M1047.3 736.8 L1053.4 737.5 L1049.2 742.0 L1049.8 738.8Z M1078.0 736.3 L1085.5 737.1 L1081.3 743.4 L1080.1 739.6Z M1110.4 736.5 L1116.9 737.3 L1113.3 742.8 L1112.2 739.5Z M1141.5 736.3 L1149.0 737.1 L1144.9 743.4 L1143.6 739.6Z M1174.1 736.2 L1180.5 737.5 L1176.4 742.6 L1175.6 739.3Z M1205.8 736.2 L1212.3 737.5 L1208.2 742.6 L1207.4 739.3Z M1141.8 767.7 L1149.1 769.1 L1144.4 775.0 L1143.5 771.2Z M1173.3 771.4 L1176.0 769.8 L1174.3 768.3 L1181.8 768.0 L1177.8 774.3 L1177.3 772.1 L1174.6 773.6Z M1140.5 802.6 L1145.7 800.7 L1144.2 798.4 L1151.3 800.1 L1147.0 806.0 L1146.6 803.3 L1141.4 805.2Z M1204.5 803.0 L1208.3 801.2 L1206.7 799.5 L1214.2 799.9 L1209.6 805.9 L1209.4 803.6 L1205.6 805.3Z M1236.7 802.3 L1239.6 801.3 L1238.2 799.4 L1245.6 800.5 L1240.6 806.0 L1240.5 803.7 L1237.6 804.8Z M1268.8 802.7 L1274.5 799.6 L1274.7 806.2 L1271.9 804.1Z M1301.0 804.6 L1303.0 802.3 L1300.9 801.4 L1307.8 798.6 L1306.2 805.9 L1305.0 803.9 L1303.0 806.3Z M1332.2 804.6 L1335.1 801.7 L1333.1 800.7 L1340.2 798.5 L1338.0 805.6 L1336.9 803.6 L1334.0 806.5Z M1364.0 804.6 L1366.9 801.7 L1364.8 800.7 L1372.0 798.5 L1369.8 805.6 L1368.7 803.6 L1365.8 806.5Z M1395.7 804.6 L1398.6 801.7 L1396.6 800.7 L1403.7 798.5 L1401.5 805.6 L1400.5 803.6 L1397.6 806.5Z M1428.1 799.8 L1434.6 801.1 L1430.5 806.2 L1429.7 802.8Z M1139.5 834.7 L1145.6 832.5 L1144.0 830.0 L1152.2 831.6 L1147.0 838.1 L1146.5 835.1 L1140.5 837.3Z M1170.3 835.0 L1177.2 832.5 L1175.6 829.7 L1184.9 831.2 L1178.7 838.4 L1178.2 835.2 L1171.3 837.7Z M1202.1 835.0 L1209.0 832.5 L1207.3 829.7 L1216.7 831.2 L1210.5 838.4 L1210.0 835.2 L1203.1 837.7Z M1233.9 835.0 L1240.8 832.5 L1239.1 829.7 L1248.4 831.2 L1242.3 838.4 L1241.7 835.2 L1234.8 837.7Z M1268.5 834.1 L1271.4 833.1 L1270.0 831.2 L1277.4 832.3 L1272.4 837.8 L1272.3 835.5 L1269.4 836.6Z M1078.2 865.1 L1084.6 863.6 L1083.0 870.0 L1080.9 867.3Z" fill="#474747"/>
<path d="M1255.6 295.8 L1263.6 299 L1264.5 311.8 L1263.8 330 Z" fill="#a6a6a6"/>
<path d="M13.0 592.5 L13.0 552.5 L46.0 542.6 L92.4 521.0 L106.0 513.0 L120.0 501.0 L140.0 492.7 L159.0 489.6 L160.0 486.0 L167.3 476.0 L175.5 471.4 L175.5 468.6 L182.0 461.4 L193.8 457.7 L199.3 454.0 L217.5 444.9 L213.9 434.0 L206.6 424.0 L203.8 414.8 L199.3 414.8 L185.6 407.5 L186.5 392.9 L176.5 389.3 L176.5 382.9 L182.0 377.4 L178.3 371.0 L178.3 358.2 L175.5 354.6 L265.0 336.0 L308.0 333.0 L339.0 335.5 L357.5 333.0 L370.0 336.4 L428.5 342.0 L442.4 353.4 L462.4 361.0 L493.3 352.4 L545.7 351.8 L558.0 355.0 L582.6 349.4 L616.5 340.0 L627.3 334.9 L633.5 327.0 L648.9 318.0 L673.5 309.6 L693.6 307.8 L697.4 307.8 L708.3 302.3 L713.8 291.4 L713.8 278.6 L707.4 251.2 L692.8 249.0 L697.4 242.0 L705.6 239.4 L706.5 242.0 L713.8 242.0 L724.7 235.7 L729.3 223.9 L712.9 223.0 L710.0 218.4 L701.0 223.9 L699.2 217.5 L692.8 213.8 L696.5 205.6 L691.9 203.8 L681.9 195.6 L700.0 186.5 L702.0 182.8 L714.7 176.4 L728.4 170.9 L746.6 167.3 L771.0 150.2 L778.6 148.7 L780.0 145.0 L794.0 135.7 L791.0 130.2 L800.0 114.8 L834.0 90.7 L883.4 58.7 L902.0 51.6 L954.3 30.0 L968.0 27.0 L977.4 31.0 L1064.0 30.0 L1245.8 28.0 L1248.4 40.3 L1236.8 43.4 L1240.7 48.5 L1235.5 55.0 L1234.2 65.2 L1244.0 64.4 L1240.7 73.0 L1234.2 70.3 L1233.0 77.3 L1240.7 79.3 L1239.9 87.0 L1229.0 83.2 L1230.4 94.7 L1228.6 108.9 L1235.5 120.4 L1234.2 129.4 L1236.8 138.4 L1239.4 135.8 L1240.7 146.0 L1248.4 159.0 L1248.4 171.8 L1236.8 180.8 L1230.4 184.6 L1235.5 187.2 L1227.8 198.7 L1230.4 205.2 L1225.3 212.9 L1229.0 218.0 L1230.4 211.6 L1234.8 219.2 L1234.8 232.0 L1239.6 246.3 L1237.4 252.7 L1243.1 259.1 L1243.1 267.1 L1232.6 283.7 L1231.6 295.8 L1240.6 297.4 L1245.4 286.9 L1253.4 286.9 L1255.6 295.8 L1263.6 299.0 L1264.5 311.8 L1259.7 439.6 L1262.3 452.4 L1218.2 572.6 L1220.8 582.2 L1209.5 700.0 L1208.2 726.1 L1221.7 739.2 L1174.5 760.3 L1189.5 780.3 L1184.5 788.4 L1171.5 792.0 L1159.4 804.4 L1158.4 812.5 L1152.4 810.5 L1151.4 816.1 L1141.3 817.5 L1134.3 821.5 L1128.3 830.5 L1122.3 835.6 L1121.3 826.5 L1140.3 796.4 L1142.7 779.3 L994.8 714.8 L994.8 708.0 L988.0 706.6 L983.8 699.7 L974.2 701.0 L971.5 698.4 L960.5 698.4 L949.6 688.8 L941.4 691.5 L934.5 680.5 L922.2 668.2 L927.1 655.9 L922.2 647.7 L926.3 639.5 L916.7 635.3 L920.8 629.9 L912.6 619.7 L903.0 617.5 L894.8 618.9 L888.0 614.8 L883.8 603.8 L874.2 599.7 L871.5 594.2 L862.0 592.3 Z" fill="none" stroke="#000" stroke-width="2.15" stroke-linejoin="miter"/>
<path d="M1141.3 822.5 L1151.4 817.5 L1156.4 816.5 L1170.5 823.0 L1168.5 811.5 L1178.0 814.5 L1174.5 809.5 L1179.5 804.4 L1188.5 813.5 L1192.6 798.4 L1211.6 795.4 L1216.7 798.4 L1208.6 801.4 L1220.7 800.4 L1217.7 792.4 L1227.7 792.4 L1229.7 797.4 L1239.8 797.4 L1235.7 789.4 L1248.8 794.4 L1249.8 792.4 L1267.9 798.4 L1282.9 792.4 L1282.9 786.0 L1362.4 786.0 L1378.5 783.4 L1389.5 779.4 L1399.6 773.3 L1408.6 769.9 L1416.6 763.9 L1421.7 763.9 L1434.7 754.7 L1417.6 770.3 L1423.7 772.7 L1416.6 773.9 L1418.2 782.4 L1411.6 780.0 L1408.6 782.4 L1402.6 782.4 L1389.5 791.4 L1380.5 794.8 L1389.5 798.4 L1393.5 795.4 L1398.5 798.4 L1412.6 798.0 L1418.6 789.4 L1422.7 788.4 L1427.7 782.8 L1440.7 779.4 L1436.7 773.3 L1442.7 780.0 L1449.8 780.0 L1451.8 773.3 L1462.8 773.7 L1468.5 770.3 L1481.9 783.0 L1489.0 776.4 L1497.0 776.0 L1502.0 770.3 L1509.0 769.9 L1510.0 767.3 L1515.5 763.9 L1528.7 767.3 L1481.9 784.4 L1450.8 794.4 L1434.7 801.5 L1416.6 808.1 L1418.2 802.0 L1405.0 802.0 L1404.6 808.1 L1395.5 808.1 L1388.5 813.9 L1376.8 813.9 L1376.4 817.1 L1357.4 816.5 L1356.4 820.2 L1346.3 820.2 L1346.3 823.6 L1337.3 829.6 L1327.2 826.6 L1322.2 829.6 L1309.0 826.6 L1306.0 829.6 L1287.0 832.6 L1284.0 836.2 L1280.0 834.6 L1268.9 832.6 L1234.7 845.0 L1220.7 847.6 L1207.6 849.6 L1203.6 851.6 L1188.5 854.2 L1184.5 851.6 L1181.5 855.0 L1169.5 855.0 L1166.4 849.6 L1152.4 845.0 L1148.4 849.6 L1141.3 854.6 L1142.3 857.7 L1122.3 860.7 L1123.3 858.7 L1118.2 851.6 L1123.3 840.6 L1121.3 838.6 L1130.3 830.5 L1134.3 824.5 Z" fill="none" stroke="#000" stroke-width="2.0" stroke-linejoin="miter"/>
<path d="M1434.7 754.7 L1455.8 751.6" fill="none" stroke="#000" stroke-width="2.0" stroke-linejoin="miter"/>
<path d="M1136.3 864.3 L1166.4 856.7 L1180.5 854.7" fill="none" stroke="#000" stroke-width="2.0" stroke-linejoin="miter"/>
<path d="M1174.5 858.0 L1200.6 857.7 L1224.7 853.6 L1264.9 844.6" fill="none" stroke="#000" stroke-width="2.0" stroke-linejoin="miter"/>
<path d="M1253.8 851.6 L1276.9 848.2 L1310.0 839.6 L1337.3 830.2 L1358.4 823.6 L1388.5 815.5 L1416.6 808.1" fill="none" stroke="#000" stroke-width="2.0" stroke-linejoin="miter"/>
<path d="M1427.7 767.3 L1436.7 760.3 L1442.7 764.3 L1446.4 773.9 L1438.7 770.3 Z" fill="none" stroke="#000" stroke-width="2.0" stroke-linejoin="miter"/>
<path d="M1079.0 873.7 L1078.0 865.7 L1086.0 861.7 L1089.0 853.6 L1096.0 847.6 L1108.2 849.6 L1114.2 853.6 L1110.2 859.7 L1100.2 866.7 Z" fill="none" stroke="#000" stroke-width="2.0" stroke-linejoin="miter"/>
<path d="M1493.0 732.8 L1497.0 729.7 L1512.0 726.5 L1500.0 732.1 Z" fill="none" stroke="#000" stroke-width="2.0" stroke-linejoin="miter"/>
<path d="M720.2 165.5 L738.4 161.5 L733.9 166.4 L724.7 170.0 Z" fill="none" stroke="#000" stroke-width="1.6"/>
<path d="M150.0 26.6 L186.7 25.3 L186.7 35.0 L188.6 44.5 L185.8 57.7 L187.6 70.9 L190.5 74.6 L191.0 101.0 L186.7 125.5 L185.8 151.9 L186.7 156.6 L182.0 160.3 L183.0 166.0 L200.8 165.0 L215.9 159.4 L227.2 152.8 L230.0 158.4 L217.8 165.0 L200.8 172.6 L180.0 176.3 L168.8 181.0 L172.6 172.6 L176.3 168.8 L178.2 162.2 L167.0 155.6 L150.0 145.3 L146.2 138.7 L140.6 131.1 L137.7 129.2 L25.6 127.4 L25.6 117.9 L40.7 109.5 L48.3 101.0 L48.3 92.5 L44.5 90.6 L45.4 85.0 L57.7 81.8 L74.6 82.2 L82.2 85.9 L99.1 85.0 L107.6 79.3 L116.0 75.6 L117.0 68.0 L112.3 64.3 L114.2 55.8 L123.6 50.1 L128.3 42.6 L140.6 31.3 Z" fill="#eeab03"/>
<text transform="translate(109.6,121.9) scale(0.70,1)" font-size="51" font-weight="bold" fill="#fff" stroke="#fff" stroke-width="2.6" vector-effect="non-scaling-stroke" stroke-linejoin="round">NYS</text>
<text transform="translate(195.2,121.9) scale(0.817,1)" font-size="51" font-weight="bold" fill="#4e2a6f" stroke="#4e2a6f" stroke-width="2.6" vector-effect="non-scaling-stroke" stroke-linejoin="round">Mesonet</text>
<text transform="translate(196.2,143.8) scale(0.742,1)" font-size="16.5" fill="#4e2a6f" stroke="#4e2a6f" stroke-width="0.5" vector-effect="non-scaling-stroke" letter-spacing="1.9">UNIVERSITY AT ALBANY</text>
<text x="599.5" y="45.5" text-anchor="middle" font-size="22" fill="#000">Figure created on Mon, 2025-12-22, at 08:00 PM</text>
<text x="599.5" y="66" text-anchor="middle" font-size="22" fill="#000">Data Valid: 2025/12/23 00:55:00 UTC</text>
<text x="353.7" y="239.5" text-anchor="middle" font-size="50.4" font-weight="bold" fill="#000">3 Hour Weather Summary</text>
<text x="355.3" y="281" text-anchor="middle" font-size="28.75" font-weight="bold" fill="#000">3 H Strong Gusts And Wind Vectors Overlaid</text>
<text x="355.2" y="311" text-anchor="middle" font-size="28.75" font-weight="bold" fill="#000">With Current MRMS Radar</text>
<text x="95.6" y="636.5" text-anchor="middle" font-size="17.4" font-weight="bold" fill="#00ee6e">Current Radar</text>
<text x="9.0" y="673.1" text-anchor="start" font-size="17" font-weight="bold" fill="#00ee6e">10 dBZ</text>
<line x1="93.5" y1="667.0" x2="178.0" y2="667.0" stroke="#00ee6e" stroke-width="4.8" stroke-linecap="round"/>
<text x="9.0" y="710.8" text-anchor="start" font-size="17" font-weight="bold" fill="#00cc0c">15 dBZ</text>
<line x1="93.5" y1="704.7" x2="178.0" y2="704.7" stroke="#00cc0c" stroke-width="6.2" stroke-linecap="round"/>
<text x="9.0" y="748.5" text-anchor="start" font-size="17" font-weight="bold" fill="#7cfc00">20 dBZ</text>
<line x1="93.5" y1="742.4" x2="178.0" y2="742.4" stroke="#7cfc00" stroke-width="7.6" stroke-linecap="round"/>
<text x="9.0" y="786.1" text-anchor="start" font-size="17" font-weight="bold" fill="#ecfc14">25 dBZ</text>
<line x1="93.5" y1="780.0" x2="178.0" y2="780.0" stroke="#ecfc14" stroke-width="9.2" stroke-linecap="round"/>
<text x="9.0" y="823.8" text-anchor="start" font-size="17" font-weight="bold" fill="#ffa500">30 dBZ</text>
<line x1="93.5" y1="817.7" x2="178.0" y2="817.7" stroke="#ffa500" stroke-width="10.6" stroke-linecap="round"/>
<text x="9.0" y="860.8" text-anchor="start" font-size="17" font-weight="bold" fill="#ee4000">35 dBZ</text>
<line x1="93.5" y1="854.7" x2="178.0" y2="854.7" stroke="#ee4000" stroke-width="12.2" stroke-linecap="round"/>
<text x="272.8" y="636.5" text-anchor="middle" font-size="17.4" font-weight="bold" fill="#e27cff">Current Wind Chill</text>
<text x="220.0" y="673.3" text-anchor="middle" font-size="17" font-weight="bold" fill="#e27cff">20 <tspan font-size="12" dy="-6">o</tspan><tspan dy="6">F</tspan></text>
<line x1="262.0" y1="667.0" x2="337.0" y2="667.0" stroke="#e27cff" stroke-width="4.8" stroke-linecap="round"/>
<text x="220.0" y="711.0" text-anchor="middle" font-size="17" font-weight="bold" fill="#da62ff">10 <tspan font-size="12" dy="-6">o</tspan><tspan dy="6">F</tspan></text>
<line x1="262.0" y1="704.7" x2="337.0" y2="704.7" stroke="#da62ff" stroke-width="6.2" stroke-linecap="round"/>
<text x="220.0" y="748.7" text-anchor="middle" font-size="17" font-weight="bold" fill="#d046fa">0 <tspan font-size="12" dy="-6">o</tspan><tspan dy="6">F</tspan></text>
<line x1="262.0" y1="742.4" x2="337.0" y2="742.4" stroke="#d046fa" stroke-width="7.6" stroke-linecap="round"/>
<text x="220.0" y="786.3" text-anchor="middle" font-size="17" font-weight="bold" fill="#c224f6">-10 <tspan font-size="12" dy="-6">o</tspan><tspan dy="6">F</tspan></text>
<line x1="262.0" y1="780.0" x2="337.0" y2="780.0" stroke="#c224f6" stroke-width="9.2" stroke-linecap="round"/>
<text x="220.0" y="824.0" text-anchor="middle" font-size="17" font-weight="bold" fill="#aa04fa">-20 <tspan font-size="12" dy="-6">o</tspan><tspan dy="6">F</tspan></text>
<line x1="262.0" y1="817.7" x2="337.0" y2="817.7" stroke="#aa04fa" stroke-width="10.6" stroke-linecap="round"/>
<text x="220.0" y="861.0" text-anchor="middle" font-size="17" font-weight="bold" fill="#9800f6">-30 <tspan font-size="12" dy="-6">o</tspan><tspan dy="6">F</tspan></text>
<line x1="262.0" y1="854.7" x2="337.0" y2="854.7" stroke="#9800f6" stroke-width="12.2" stroke-linecap="round"/>
<text x="440.0" y="634.5" text-anchor="middle" font-size="17.4" font-weight="bold" fill="#4ea6fc">3 H Pres Change</text>
<text x="365.0" y="673.1" text-anchor="start" font-size="17" font-weight="bold" fill="#4ea6fc">+2 mb</text>
<line x1="430.5" y1="667.0" x2="505.5" y2="667.0" stroke="#4ea6fc" stroke-width="4.8" stroke-linecap="round"/>
<text x="365.0" y="710.8" text-anchor="start" font-size="17" font-weight="bold" fill="#4f84f6">+3 mb</text>
<line x1="430.5" y1="704.7" x2="505.5" y2="704.7" stroke="#4f84f6" stroke-width="6.2" stroke-linecap="round"/>
<text x="365.0" y="748.5" text-anchor="start" font-size="17" font-weight="bold" fill="#5666f0">+4 mb</text>
<line x1="430.5" y1="742.4" x2="505.5" y2="742.4" stroke="#5666f0" stroke-width="7.6" stroke-linecap="round"/>
<text x="365.0" y="786.1" text-anchor="start" font-size="17" font-weight="bold" fill="#5a48ea">+5 mb</text>
<line x1="430.5" y1="780.0" x2="505.5" y2="780.0" stroke="#5a48ea" stroke-width="9.2" stroke-linecap="round"/>
<text x="365.0" y="823.8" text-anchor="start" font-size="17" font-weight="bold" fill="#5e28e6">+6 mb</text>
<line x1="430.5" y1="817.7" x2="505.5" y2="817.7" stroke="#5e28e6" stroke-width="10.6" stroke-linecap="round"/>
<text x="365.0" y="860.8" text-anchor="start" font-size="17" font-weight="bold" fill="#6210e4">+7 mb</text>
<line x1="430.5" y1="854.7" x2="505.5" y2="854.7" stroke="#6210e4" stroke-width="12.2" stroke-linecap="round"/>
<text x="602.3" y="634.5" text-anchor="middle" font-size="17.4" font-weight="bold" fill="#aaaaaa">3 H Precipitation</text>
<text x="533.5" y="673.1" text-anchor="start" font-size="17" font-weight="bold" fill="#a9a9a9">.01''</text>
<line x1="580.5" y1="667.0" x2="674.0" y2="667.0" stroke="#a9a9a9" stroke-width="4.8" stroke-linecap="round"/>
<text x="533.5" y="710.8" text-anchor="start" font-size="17" font-weight="bold" fill="#999999">.05''</text>
<line x1="580.5" y1="704.7" x2="674.0" y2="704.7" stroke="#999999" stroke-width="6.2" stroke-linecap="round"/>
<text x="533.5" y="748.5" text-anchor="start" font-size="17" font-weight="bold" fill="#888888">.10''</text>
<line x1="580.5" y1="742.4" x2="674.0" y2="742.4" stroke="#888888" stroke-width="7.6" stroke-linecap="round"/>
<text x="533.5" y="786.1" text-anchor="start" font-size="17" font-weight="bold" fill="#717171">.20''</text>
<line x1="580.5" y1="780.0" x2="674.0" y2="780.0" stroke="#717171" stroke-width="9.2" stroke-linecap="round"/>
<text x="533.5" y="823.8" text-anchor="start" font-size="17" font-weight="bold" fill="#565656">.30''</text>
<line x1="580.5" y1="817.7" x2="674.0" y2="817.7" stroke="#565656" stroke-width="10.6" stroke-linecap="round"/>
<text x="533.5" y="860.8" text-anchor="start" font-size="17" font-weight="bold" fill="#404040">.40''</text>
<line x1="580.5" y1="854.7" x2="674.0" y2="854.7" stroke="#404040" stroke-width="12.2" stroke-linecap="round"/>
<text x="794.0" y="634.5" text-anchor="middle" font-size="17.4" font-weight="bold" fill="#000">3 H Snow Depth Change</text>
<text x="705.5" y="673.1" text-anchor="start" font-size="17" font-weight="bold" fill="#000">+.5''</text>
<line x1="749.5" y1="667.0" x2="843.0" y2="667.0" stroke="#000" stroke-width="4.8" stroke-linecap="round"/>
<text x="705.5" y="710.8" text-anchor="start" font-size="17" font-weight="bold" fill="#000">+1''</text>
<line x1="749.5" y1="704.7" x2="843.0" y2="704.7" stroke="#000" stroke-width="6.2" stroke-linecap="round"/>
<text x="705.5" y="748.5" text-anchor="start" font-size="17" font-weight="bold" fill="#000">+2''</text>
<line x1="749.5" y1="742.4" x2="843.0" y2="742.4" stroke="#000" stroke-width="7.6" stroke-linecap="round"/>
<text x="705.5" y="786.1" text-anchor="start" font-size="17" font-weight="bold" fill="#000">+3''</text>
<line x1="749.5" y1="780.0" x2="843.0" y2="780.0" stroke="#000" stroke-width="9.2" stroke-linecap="round"/>
<text x="705.5" y="823.8" text-anchor="start" font-size="17" font-weight="bold" fill="#000">+4''</text>
<line x1="749.5" y1="817.7" x2="843.0" y2="817.7" stroke="#000" stroke-width="10.6" stroke-linecap="round"/>
<text x="705.5" y="860.8" text-anchor="start" font-size="17" font-weight="bold" fill="#000">+5''</text>
<line x1="749.5" y1="854.7" x2="843.0" y2="854.7" stroke="#000" stroke-width="12.2" stroke-linecap="round"/>
<circle cx="898.7" cy="757.3" r="6.9" fill="#ff1493"/>
<text x="964.7" y="745.5" text-anchor="middle" font-size="19.9" font-weight="bold" fill="#ff1493">30 Minute</text>
<text x="964.7" y="767.5" text-anchor="middle" font-size="19.9" font-weight="bold" fill="#ff1493">MRMS</text>
<text x="964.7" y="789.3" text-anchor="middle" font-size="19.9" font-weight="bold" fill="#ff1493">Lightning</text>
<text x="966" y="824.5" text-anchor="middle" font-size="17.5" font-weight="bold" fill="#d8200f">32 <tspan font-size="12" dy="-6">o</tspan><tspan dy="6">F Wet-bulb Contour</tspan></text>
<line x1="917.7" y1="854.5" x2="1011.7" y2="854.5" stroke="#d8200f" stroke-width="12" stroke-linecap="round"/>
<rect x="1314" y="553" width="130" height="116" fill="#87ceeb"/>
<text x="1379" y="586.7" text-anchor="middle" font-size="35.3" fill="#000">25 mph</text>
<path d="M1357.3 624.9 L1384.2 624.9 L1384.2 619.8 L1400.2 627.4 L1384.2 635 L1384.2 629.9 L1357.3 629.9 Z" fill="#4a4a4a"/>
</svg></body></html>
